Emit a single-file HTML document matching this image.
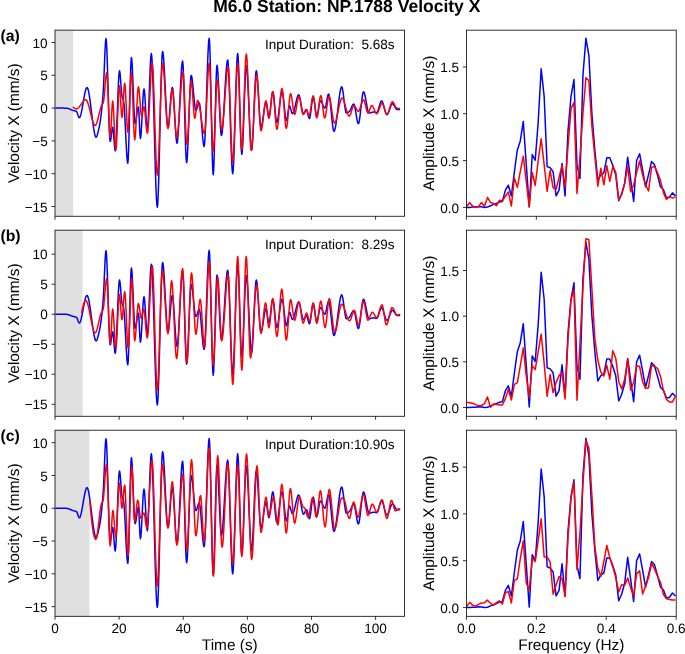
<!DOCTYPE html>
<html lang="en">
<head>
<meta charset="utf-8">
<title>M6.0 Station: NP.1788 Velocity X</title>
<style>
html,body{margin:0;padding:0;background:#ffffff;}
body{width:685px;height:654px;overflow:hidden;font-family:"Liberation Sans",sans-serif;}
svg{display:block;will-change:transform;}text{text-rendering:geometricPrecision;}
</style>
</head>
<body>
<svg width="685" height="654" viewBox="0 0 685 654">
<rect x="0" y="0" width="685" height="654" fill="#ffffff"/>
<defs>
<clipPath id="cl0"><rect x="55" y="30.15" width="349.6" height="186.1"/></clipPath>
<clipPath id="cr0"><rect x="466.4" y="30.15" width="209.8" height="186.1"/></clipPath>
<clipPath id="cl1"><rect x="55" y="230.17" width="349.6" height="186.1"/></clipPath>
<clipPath id="cr1"><rect x="466.4" y="230.17" width="209.8" height="186.1"/></clipPath>
<clipPath id="cl2"><rect x="55" y="430.2" width="349.6" height="186.1"/></clipPath>
<clipPath id="cr2"><rect x="466.4" y="430.2" width="209.8" height="186.1"/></clipPath>
</defs>
<text x="346.8" y="12.4" text-anchor="middle" font-family='"Liberation Sans", sans-serif' font-weight="700" font-size="17.5" fill="#000">M6.0 Station: NP.1788 Velocity X</text>
<rect x="55" y="30.15" width="18.2" height="186.1" fill="#e0e0e0"/>
<g clip-path="url(#cl0)" fill="none" stroke-width="1.5" stroke-linejoin="round" stroke-linecap="butt">
<path d="M55.4 108 L55.84 108 L56.28 108 L56.72 108 L57.16 108 L57.6 108.01 L58.04 108.01 L58.48 108.02 L58.92 108.02 L59.36 108.02 L59.8 108.03 L60.24 108.04 L60.68 108.04 L61.12 108.05 L61.56 108.06 L62 108.07 L62.44 108.08 L62.88 108.09 L63.32 108.1 L63.76 108.11 L64.2 108.13 L64.64 108.14 L65.08 108.15 L65.52 108.17 L65.96 108.18 L66.4 108.2 L66.83 108.23 L67.27 108.3 L67.7 108.39 L68.13 108.51 L68.57 108.65 L69 108.81 L69.43 108.98 L69.87 109.16 L70.3 109.35 L70.73 109.54 L71.17 109.73 L71.6 109.91 L72.03 110.09 L72.47 110.25 L72.9 110.4 L73.35 110.53 L73.8 110.64 L74.25 110.74 L74.7 110.84 L75.15 110.96 L75.6 111.1 L76.05 111.28 L76.5 111.5 L76.9 112.01 L77.3 112.96 L77.7 114.16 L78.1 115.42 L78.5 116.56 L78.9 117.38 L79.3 117.7 L79.73 117.43 L80.16 116.66 L80.58 115.46 L81.01 113.89 L81.44 112 L81.87 109.87 L82.29 107.55 L82.72 105.11 L83.15 102.6 L83.58 100.09 L84.01 97.65 L84.43 95.33 L84.86 93.2 L85.29 91.31 L85.72 89.74 L86.14 88.54 L86.57 87.77 L87 87.5 L87.43 87.83 L87.87 88.77 L88.3 90.25 L88.73 92.22 L89.17 94.61 L89.6 97.35 L90.03 100.39 L90.47 103.64 L90.9 107.06 L91.33 110.58 L91.77 114.12 L92.2 117.64 L92.63 121.06 L93.07 124.31 L93.5 127.35 L93.93 130.09 L94.37 132.48 L94.8 134.45 L95.23 135.93 L95.67 136.87 L96.1 137.2 L96.51 136.9 L96.93 136.09 L97.34 134.87 L97.76 133.34 L98.17 131.61 L98.59 129.8 L99 128 L99.4 126.16 L99.8 124.04 L100.2 121.63 L100.6 118.95 L101 116 L101.44 112.3 L101.88 108.01 L102.32 103.17 L102.76 97.82 L103.2 92 L103.6 85.01 L104 75.81 L104.4 65.6 L104.8 55.58 L105.2 46.95 L105.6 40.89 L106 38.6 L106.42 41.48 L106.84 49.3 L107.26 60.83 L107.68 74.82 L108.1 90.05 L108.52 105.28 L108.94 119.27 L109.36 130.8 L109.78 138.62 L110.2 141.5 L110.62 140.44 L111.03 137.79 L111.45 134.35 L111.87 130.91 L112.28 128.26 L112.7 127.2 L113.12 128.95 L113.53 133.32 L113.95 139 L114.37 144.68 L114.78 149.05 L115.2 150.8 L115.63 148.56 L116.06 142.48 L116.49 133.52 L116.92 122.64 L117.35 110.8 L117.78 98.96 L118.21 88.08 L118.64 79.12 L119.07 73.04 L119.5 70.8 L119.92 72.4 L120.33 76.48 L120.75 81.96 L121.17 87.77 L121.58 92.8 L122 96 L122.4 97.46 L122.8 98.48 L123.2 99.51 L123.6 101 L124.02 104.34 L124.44 110 L124.86 117.34 L125.28 125.74 L125.7 134.57 L126.12 143.2 L126.54 151.01 L126.96 157.36 L127.38 161.64 L127.8 163.2 L128.2 159.58 L128.6 149.87 L129 135.82 L129.4 119.16 L129.8 101.64 L130.2 84.98 L130.6 70.93 L131 61.22 L131.4 57.6 L131.81 59.86 L132.22 65.92 L132.63 74.69 L133.04 85.08 L133.46 96.02 L133.87 106.41 L134.28 115.18 L134.69 121.24 L135.1 123.5 L135.51 122.79 L135.93 120.92 L136.34 118.28 L136.75 115.25 L137.16 112.22 L137.57 109.58 L137.99 107.71 L138.4 107 L138.8 110.29 L139.2 118.12 L139.6 127.48 L140 135.31 L140.4 138.6 L140.85 136.46 L141.3 130.83 L141.75 122.87 L142.2 113.75 L142.65 104.63 L143.1 96.67 L143.55 91.04 L144 88.9 L144.41 90.69 L144.82 95.4 L145.24 102.06 L145.65 109.7 L146.06 117.34 L146.48 124 L146.89 128.71 L147.3 130.5 L147.74 127.86 L148.19 120.8 L148.63 110.56 L149.08 98.43 L149.52 85.67 L149.97 73.54 L150.41 63.3 L150.86 56.24 L151.3 53.6 L151.73 55.84 L152.16 62.11 L152.59 71.74 L153.01 84.05 L153.44 98.38 L153.87 114.05 L154.3 130.4 L154.73 146.75 L155.16 162.42 L155.59 176.75 L156.01 189.06 L156.44 198.69 L156.87 204.96 L157.3 207.2 L157.74 204.14 L158.18 195.67 L158.62 182.87 L159.07 166.83 L159.51 148.63 L159.95 129.35 L160.39 110.07 L160.83 91.87 L161.28 75.83 L161.72 63.03 L162.16 54.56 L162.6 51.5 L163.02 52.78 L163.43 56.34 L163.85 61.77 L164.26 68.66 L164.68 76.58 L165.09 85.12 L165.51 93.88 L165.92 102.42 L166.34 110.34 L166.75 117.23 L167.17 122.66 L167.58 126.22 L168 127.5 L168.43 126.38 L168.86 123.34 L169.29 118.86 L169.72 113.42 L170.15 107.5 L170.58 101.58 L171.01 96.14 L171.44 91.66 L171.87 88.62 L172.3 87.5 L172.73 88.8 L173.15 92.35 L173.58 97.67 L174.01 104.24 L174.44 111.56 L174.86 119.14 L175.29 126.46 L175.72 133.03 L176.15 138.35 L176.57 141.9 L177 143.2 L177.43 141.82 L177.86 137.96 L178.29 132.09 L178.72 124.64 L179.15 116.07 L179.58 106.83 L180.02 97.37 L180.45 88.13 L180.88 79.56 L181.31 72.11 L181.74 66.24 L182.17 62.38 L182.6 61 L183.04 64.48 L183.49 73.82 L183.93 87.34 L184.38 103.37 L184.82 120.23 L185.27 136.26 L185.71 149.78 L186.16 159.12 L186.6 162.6 L187.02 160.57 L187.44 155 L187.85 146.68 L188.27 136.39 L188.69 124.93 L189.11 113.07 L189.53 101.61 L189.95 91.32 L190.36 83 L190.78 77.43 L191.2 75.4 L191.63 76.22 L192.05 78.46 L192.48 81.81 L192.91 85.95 L193.34 90.56 L193.76 95.34 L194.19 99.95 L194.62 104.09 L195.05 107.44 L195.47 109.68 L195.9 110.5 L196.31 110.17 L196.72 109.3 L197.14 108.06 L197.55 106.65 L197.96 105.24 L198.38 104 L198.79 103.13 L199.2 102.8 L199.65 103.82 L200.09 106.61 L200.54 110.78 L200.98 115.93 L201.43 121.68 L201.87 127.62 L202.32 133.37 L202.76 138.52 L203.21 142.69 L203.65 145.48 L204.1 146.5 L204.53 144.37 L204.95 138.49 L205.38 129.59 L205.8 118.45 L206.22 105.8 L206.65 92.4 L207.07 79 L207.5 66.35 L207.92 55.21 L208.35 46.31 L208.77 40.43 L209.2 38.3 L209.64 42.98 L210.09 55.51 L210.53 73.66 L210.98 95.18 L211.42 117.82 L211.87 139.34 L212.31 157.49 L212.76 170.02 L213.2 174.7 L213.62 170.95 L214.04 160.89 L214.47 146.34 L214.89 129.08 L215.31 110.92 L215.73 93.66 L216.16 79.11 L216.58 69.05 L217 65.3 L217.44 67.27 L217.88 72.6 L218.32 80.46 L218.76 90.01 L219.2 100.4 L219.64 110.79 L220.08 120.34 L220.52 128.2 L220.96 133.53 L221.4 135.5 L221.85 134.4 L222.3 131.32 L222.75 126.59 L223.2 120.53 L223.65 113.49 L224.1 105.78 L224.55 97.75 L225 89.72 L225.45 82.01 L225.9 74.97 L226.35 68.91 L226.8 64.18 L227.25 61.1 L227.7 60 L228.12 62.24 L228.53 68.42 L228.95 77.77 L229.37 89.48 L229.78 102.77 L230.2 116.85 L230.62 130.93 L231.03 144.22 L231.45 155.93 L231.87 165.28 L232.28 171.46 L232.7 173.7 L233.12 171.34 L233.53 164.8 L233.95 154.93 L234.37 142.56 L234.78 128.52 L235.2 113.65 L235.62 98.78 L236.03 84.74 L236.45 72.37 L236.87 62.5 L237.28 55.96 L237.7 53.6 L238.11 56.42 L238.52 64.07 L238.93 75.35 L239.34 89.05 L239.75 103.95 L240.16 118.85 L240.57 132.55 L240.98 143.83 L241.39 151.48 L241.8 154.3 L242.25 151.82 L242.7 145.1 L243.15 135.18 L243.6 123.15 L244.05 110.05 L244.5 96.95 L244.95 84.92 L245.4 75 L245.85 68.28 L246.3 65.8 L246.74 67.46 L247.18 72.06 L247.62 79 L248.07 87.71 L248.51 97.59 L248.95 108.05 L249.39 118.51 L249.83 128.39 L250.28 137.1 L250.72 144.04 L251.16 148.64 L251.6 150.3 L252.03 148.45 L252.45 143.37 L252.88 135.79 L253.31 126.41 L253.74 115.96 L254.16 105.14 L254.59 94.69 L255.02 85.31 L255.45 77.73 L255.87 72.65 L256.3 70.8 L256.73 72.12 L257.15 75.74 L257.58 81.15 L258.01 87.84 L258.44 95.29 L258.86 103.01 L259.29 110.46 L259.72 117.15 L260.15 122.56 L260.57 126.18 L261 127.5 L261.42 127 L261.83 125.61 L262.25 123.52 L262.67 120.89 L263.08 117.91 L263.5 114.75 L263.92 111.59 L264.33 108.61 L264.75 105.98 L265.17 103.89 L265.58 102.5 L266 102 L266.41 102.86 L266.83 105.09 L267.24 108.14 L267.66 111.46 L268.07 114.51 L268.49 116.74 L268.9 117.6 L269.33 116.71 L269.77 114.33 L270.2 110.89 L270.63 106.8 L271.07 102.5 L271.5 98.41 L271.93 94.97 L272.37 92.59 L272.8 91.7 L273.24 92.75 L273.69 95.57 L274.13 99.66 L274.58 104.5 L275.02 109.6 L275.47 114.44 L275.91 118.53 L276.36 121.35 L276.8 122.4 L277.23 121.8 L277.67 120.13 L278.1 117.62 L278.53 114.47 L278.97 110.89 L279.4 107.1 L279.83 103.31 L280.27 99.73 L280.7 96.58 L281.13 94.07 L281.57 92.4 L282 91.8 L282.45 92.61 L282.9 94.81 L283.35 98.04 L283.8 101.97 L284.25 106.25 L284.7 110.53 L285.15 114.46 L285.6 117.69 L286.05 119.89 L286.5 120.7 L286.91 119.87 L287.33 117.75 L287.74 114.84 L288.16 111.66 L288.57 108.75 L288.99 106.63 L289.4 105.8 L289.84 106.24 L290.29 107.37 L290.73 108.91 L291.17 110.59 L291.61 112.13 L292.06 113.26 L292.5 113.7 L292.94 113.42 L293.39 112.65 L293.83 111.47 L294.27 109.95 L294.71 108.19 L295.16 106.26 L295.6 104.25 L296.04 102.24 L296.49 100.31 L296.93 98.55 L297.37 97.03 L297.81 95.85 L298.26 95.08 L298.7 94.8 L299.14 95.25 L299.57 96.47 L300.01 98.31 L300.45 100.57 L300.88 103.09 L301.32 105.71 L301.75 108.23 L302.19 110.49 L302.63 112.33 L303.06 113.55 L303.5 114 L303.93 113.76 L304.36 113.13 L304.79 112.27 L305.21 111.33 L305.64 110.47 L306.07 109.84 L306.5 109.6 L306.91 110.09 L307.33 111.36 L307.74 113.1 L308.16 115 L308.57 116.74 L308.99 118.01 L309.4 118.5 L309.82 117.76 L310.24 115.79 L310.67 112.93 L311.09 109.53 L311.51 105.97 L311.93 102.57 L312.36 99.71 L312.78 97.74 L313.2 97 L313.6 97.65 L314 99.4 L314.4 101.93 L314.8 104.92 L315.2 108.08 L315.6 111.07 L316 113.6 L316.4 115.35 L316.8 116 L317.25 115.35 L317.7 113.63 L318.15 111.19 L318.6 108.4 L319.05 105.61 L319.5 103.17 L319.95 101.45 L320.4 100.8 L320.85 101 L321.3 101.55 L321.75 102.36 L322.2 103.33 L322.65 104.4 L323.1 105.47 L323.55 106.44 L324 107.25 L324.45 107.8 L324.9 108 L325.31 107.52 L325.72 106.25 L326.13 104.4 L326.54 102.2 L326.96 99.9 L327.37 97.7 L327.78 95.85 L328.19 94.58 L328.6 94.1 L329.05 94.83 L329.5 96.86 L329.95 99.91 L330.4 103.74 L330.85 108.09 L331.3 112.7 L331.75 117.31 L332.2 121.66 L332.65 125.49 L333.1 128.54 L333.55 130.57 L334 131.3 L334.43 130.9 L334.86 129.78 L335.28 128.01 L335.71 125.7 L336.14 122.93 L336.57 119.79 L336.99 116.38 L337.42 112.78 L337.85 109.1 L338.28 105.42 L338.71 101.82 L339.13 98.41 L339.56 95.27 L339.99 92.5 L340.42 90.19 L340.84 88.42 L341.27 87.3 L341.7 86.9 L342.13 87.51 L342.55 89.18 L342.98 91.68 L343.41 94.77 L343.84 98.22 L344.26 101.78 L344.69 105.23 L345.12 108.32 L345.55 110.82 L345.97 112.49 L346.4 113.1 L346.81 113.05 L347.23 112.9 L347.64 112.69 L348.06 112.41 L348.47 112.09 L348.89 111.75 L349.3 111.4 L349.74 110.9 L350.18 110.17 L350.62 109.28 L351.06 108.3 L351.5 107.29 L351.94 106.32 L352.38 105.44 L352.82 104.74 L353.26 104.27 L353.7 104.1 L354.13 104.56 L354.55 105.81 L354.98 107.68 L355.41 109.99 L355.84 112.57 L356.26 115.23 L356.69 117.81 L357.12 120.12 L357.55 121.99 L357.97 123.24 L358.4 123.7 L358.82 123.07 L359.25 121.34 L359.67 118.72 L360.1 115.43 L360.52 111.7 L360.95 107.75 L361.38 103.8 L361.8 100.07 L362.23 96.78 L362.65 94.16 L363.07 92.43 L363.5 91.8 L363.93 92.16 L364.36 93.16 L364.79 94.68 L365.22 96.61 L365.65 98.83 L366.08 101.22 L366.52 103.68 L366.95 106.07 L367.38 108.29 L367.81 110.22 L368.24 111.74 L368.67 112.74 L369.1 113.1 L369.53 113.07 L369.95 113 L370.38 112.9 L370.81 112.77 L371.24 112.62 L371.66 112.48 L372.09 112.33 L372.52 112.2 L372.95 112.1 L373.37 112.03 L373.8 112 L374.21 112.03 L374.63 112.12 L375.04 112.24 L375.46 112.36 L375.87 112.48 L376.29 112.57 L376.7 112.6 L377.15 112.33 L377.59 111.58 L378.04 110.46 L378.48 109.08 L378.93 107.55 L379.37 105.95 L379.82 104.42 L380.26 103.04 L380.71 101.92 L381.15 101.17 L381.6 100.9 L382.04 101.17 L382.48 101.92 L382.93 103.06 L383.37 104.48 L383.81 106.09 L384.25 107.8 L384.69 109.51 L385.13 111.12 L385.57 112.54 L386.02 113.68 L386.46 114.43 L386.9 114.7 L387.33 114.52 L387.76 114.01 L388.19 113.23 L388.62 112.24 L389.05 111.1 L389.48 109.88 L389.92 108.62 L390.35 107.4 L390.78 106.26 L391.21 105.27 L391.64 104.49 L392.07 103.98 L392.5 103.8 L392.93 103.94 L393.35 104.31 L393.78 104.86 L394.21 105.54 L394.64 106.31 L395.06 107.09 L395.49 107.86 L395.92 108.54 L396.35 109.09 L396.77 109.46 L397.2 109.6 L397.61 109.6 L398.03 109.59 L398.44 109.58 L398.86 109.54 L399.27 109.49 L399.69 109.41 L400.1 109.3" stroke="#0000ff"/>
<path d="M72.9 106.8 L73.35 107.24 L73.8 107.65 L74.25 108 L74.7 108.31 L75.15 108.56 L75.6 108.74 L76.05 108.86 L76.5 108.9 L76.94 108.84 L77.39 108.67 L77.83 108.39 L78.27 108.03 L78.71 107.58 L79.16 107.08 L79.6 106.51 L80.04 105.91 L80.49 105.28 L80.93 104.63 L81.37 103.97 L81.81 103.32 L82.26 102.69 L82.7 102.09 L83.14 101.52 L83.59 101.02 L84.03 100.57 L84.47 100.21 L84.91 99.93 L85.36 99.76 L85.8 99.7 L86.24 99.87 L86.69 100.36 L87.13 101.13 L87.57 102.15 L88.01 103.39 L88.46 104.81 L88.9 106.39 L89.34 108.08 L89.79 109.85 L90.23 111.68 L90.67 113.52 L91.11 115.35 L91.56 117.12 L92 118.81 L92.44 120.39 L92.89 121.81 L93.33 123.05 L93.77 124.07 L94.21 124.84 L94.66 125.33 L95.1 125.5 L95.55 125.29 L95.99 124.69 L96.44 123.75 L96.89 122.53 L97.33 121.08 L97.78 119.44 L98.23 117.68 L98.67 115.83 L99.12 113.96 L99.57 112.11 L100.01 110.33 L100.46 108.68 L100.91 107.21 L101.35 105.96 L101.8 105 L102.15 104.48 L102.5 104.07 L102.85 103.63 L103.2 103 L103.65 100.93 L104.1 97.13 L104.55 92.21 L105 86.8 L105.45 81.52 L105.9 76.98 L106.35 73.8 L106.8 72.6 L107.22 75.39 L107.65 82.74 L108.08 93.13 L108.5 105.05 L108.92 116.97 L109.35 127.36 L109.78 134.71 L110.2 137.5 L110.62 134.8 L111.03 128.06 L111.45 119.3 L111.87 110.54 L112.28 103.8 L112.7 101.1 L113.14 103.81 L113.59 110.81 L114.03 120.39 L114.47 130.81 L114.91 140.39 L115.36 147.39 L115.8 150.1 L116.2 147.89 L116.6 141.99 L117 133.43 L117.4 123.29 L117.8 112.61 L118.2 102.47 L118.6 93.91 L119 88.01 L119.4 85.8 L119.83 88.13 L120.27 93.97 L120.7 101.55 L121.13 109.13 L121.57 114.97 L122 117.3 L122.39 115.41 L122.77 110.54 L123.16 103.88 L123.54 96.62 L123.93 89.96 L124.31 85.09 L124.7 83.2 L125.14 85.91 L125.59 92.91 L126.03 102.49 L126.47 112.91 L126.91 122.49 L127.36 129.49 L127.8 132.2 L128.2 130.17 L128.6 124.72 L129 116.83 L129.4 107.47 L129.8 97.63 L130.2 88.27 L130.6 80.38 L131 74.93 L131.4 72.9 L131.81 75.77 L132.22 83.35 L132.64 94.07 L133.05 106.35 L133.46 118.63 L133.88 129.35 L134.29 136.93 L134.7 139.8 L135.11 137.98 L135.52 133.11 L135.93 126.06 L136.34 117.7 L136.76 108.9 L137.17 100.54 L137.58 93.49 L137.99 88.62 L138.4 86.8 L138.8 88.05 L139.2 91.36 L139.6 96.04 L140 101.4 L140.4 106.76 L140.8 111.44 L141.2 114.75 L141.6 116 L142 115.32 L142.4 113.61 L142.8 111.4 L143.2 109.19 L143.6 107.48 L144 106.8 L144.41 107.93 L144.82 110.92 L145.24 115.15 L145.65 120 L146.06 124.85 L146.48 129.08 L146.89 132.07 L147.3 133.2 L147.75 131.57 L148.19 127.1 L148.64 120.42 L149.08 112.16 L149.53 102.96 L149.97 93.44 L150.42 84.24 L150.86 75.98 L151.31 69.3 L151.75 64.83 L152.2 63.2 L152.62 65.4 L153.05 71.49 L153.47 80.68 L153.9 92.21 L154.32 105.29 L154.75 119.15 L155.18 133.01 L155.6 146.09 L156.03 157.62 L156.45 166.81 L156.88 172.9 L157.3 175.1 L157.74 172.91 L158.18 166.84 L158.62 157.68 L159.07 146.19 L159.51 133.16 L159.95 119.35 L160.39 105.54 L160.83 92.51 L161.28 81.02 L161.72 71.86 L162.16 65.79 L162.6 63.6 L163.02 64.69 L163.43 67.74 L163.85 72.39 L164.26 78.27 L164.68 85.05 L165.09 92.36 L165.51 99.84 L165.92 107.15 L166.34 113.93 L166.75 119.81 L167.17 124.46 L167.58 127.51 L168 128.6 L168.43 127.5 L168.86 124.52 L169.29 120.13 L169.72 114.8 L170.15 109 L170.58 103.2 L171.01 97.87 L171.44 93.48 L171.87 90.5 L172.3 89.4 L172.75 90.74 L173.2 94.37 L173.65 99.72 L174.1 106.23 L174.55 113.3 L175 120.37 L175.45 126.88 L175.9 132.23 L176.35 135.86 L176.8 137.2 L177.24 136.26 L177.69 133.62 L178.13 129.56 L178.57 124.37 L179.01 118.34 L179.46 111.73 L179.9 104.85 L180.34 97.97 L180.79 91.36 L181.23 85.33 L181.67 80.14 L182.11 76.08 L182.56 73.44 L183 72.5 L183.43 74.96 L183.87 81.56 L184.3 91.11 L184.73 102.44 L185.17 114.36 L185.6 125.69 L186.03 135.24 L186.47 141.84 L186.9 144.3 L187.33 142.54 L187.76 137.77 L188.19 130.74 L188.62 122.19 L189.05 112.9 L189.48 103.61 L189.91 95.06 L190.34 88.03 L190.77 83.26 L191.2 81.5 L191.6 82.76 L192 86.14 L192.4 91.04 L192.8 96.85 L193.2 102.95 L193.6 108.76 L194 113.66 L194.4 117.04 L194.8 118.3 L195.2 117.31 L195.6 114.75 L196 111.25 L196.4 107.45 L196.8 103.95 L197.2 101.39 L197.6 100.4 L198.03 100.77 L198.46 101.83 L198.89 103.46 L199.32 105.59 L199.76 108.1 L200.19 110.9 L200.62 113.9 L201.05 117 L201.48 120.1 L201.91 123.1 L202.34 125.9 L202.78 128.41 L203.21 130.54 L203.64 132.17 L204.07 133.23 L204.5 133.6 L204.93 131.96 L205.35 127.46 L205.78 120.75 L206.21 112.44 L206.64 103.19 L207.06 93.61 L207.49 84.36 L207.92 76.05 L208.35 69.34 L208.77 64.84 L209.2 63.2 L209.64 66.2 L210.09 74.26 L210.53 85.91 L210.98 99.73 L211.42 114.27 L211.87 128.09 L212.31 139.74 L212.76 147.8 L213.2 150.8 L213.62 148.82 L214.04 143.45 L214.46 135.53 L214.88 125.91 L215.3 115.45 L215.72 104.99 L216.14 95.37 L216.56 87.45 L216.98 82.08 L217.4 80.1 L217.83 81.48 L218.26 85.22 L218.69 90.73 L219.12 97.42 L219.55 104.7 L219.98 111.98 L220.41 118.67 L220.84 124.18 L221.27 127.92 L221.7 129.3 L222.13 128.5 L222.55 126.27 L222.98 122.81 L223.41 118.35 L223.83 113.12 L224.26 107.34 L224.69 101.22 L225.11 94.98 L225.54 88.86 L225.97 83.08 L226.39 77.85 L226.82 73.39 L227.25 69.93 L227.67 67.7 L228.1 66.9 L228.52 69.12 L228.94 75.21 L229.35 84.3 L229.77 95.54 L230.19 108.07 L230.61 121.03 L231.03 133.56 L231.45 144.8 L231.86 153.89 L232.28 159.98 L232.7 162.2 L233.12 160.25 L233.53 154.87 L233.95 146.73 L234.37 136.53 L234.78 124.96 L235.2 112.7 L235.62 100.44 L236.03 88.87 L236.45 78.67 L236.87 70.53 L237.28 65.15 L237.7 63.2 L238.14 66.18 L238.59 74.15 L239.03 85.7 L239.48 99.4 L239.92 113.8 L240.37 127.5 L240.81 139.05 L241.26 147.02 L241.7 150 L242.12 147.76 L242.54 141.63 L242.95 132.47 L243.37 121.15 L243.79 108.53 L244.21 95.47 L244.63 82.85 L245.05 71.53 L245.46 62.37 L245.88 56.24 L246.3 54 L246.72 55.9 L247.13 61.14 L247.55 69.06 L247.97 78.99 L248.38 90.26 L248.8 102.2 L249.22 114.14 L249.63 125.41 L250.05 135.34 L250.47 143.26 L250.88 148.5 L251.3 150.4 L251.75 148.92 L252.2 144.81 L252.65 138.62 L253.1 130.85 L253.55 122.04 L254 112.7 L254.45 103.36 L254.9 94.55 L255.35 86.78 L255.8 80.59 L256.25 76.48 L256.7 75 L257.13 76.56 L257.56 80.8 L257.99 87.05 L258.42 94.64 L258.85 102.9 L259.28 111.16 L259.71 118.75 L260.14 125 L260.57 129.24 L261 130.8 L261.42 130.21 L261.83 128.58 L262.25 126.11 L262.67 123.02 L263.08 119.52 L263.5 115.8 L263.92 112.08 L264.33 108.58 L264.75 105.49 L265.17 103.02 L265.58 101.39 L266 100.8 L266.41 101.76 L266.83 104.25 L267.24 107.65 L267.66 111.35 L268.07 114.75 L268.49 117.24 L268.9 118.2 L269.33 117.29 L269.77 114.87 L270.2 111.36 L270.63 107.19 L271.07 102.81 L271.5 98.64 L271.93 95.13 L272.37 92.71 L272.8 91.8 L273.21 92.85 L273.62 95.7 L274.03 99.9 L274.44 105 L274.85 110.55 L275.26 116.1 L275.67 121.2 L276.08 125.4 L276.49 128.25 L276.9 129.3 L277.32 128.5 L277.75 126.27 L278.17 122.91 L278.6 118.7 L279.02 113.92 L279.45 108.85 L279.88 103.78 L280.3 99 L280.73 94.79 L281.15 91.43 L281.57 89.2 L282 88.4 L282.43 89.52 L282.86 92.55 L283.29 97.02 L283.72 102.44 L284.15 108.35 L284.58 114.26 L285.01 119.68 L285.44 124.15 L285.87 127.18 L286.3 128.3 L286.73 127.33 L287.16 124.69 L287.59 120.8 L288.02 116.09 L288.45 110.95 L288.88 105.81 L289.31 101.1 L289.74 97.21 L290.17 94.57 L290.6 93.6 L291.04 94.31 L291.49 96.22 L291.93 98.99 L292.38 102.27 L292.82 105.73 L293.27 109.01 L293.71 111.78 L294.16 113.69 L294.6 114.4 L295.03 113.9 L295.46 112.54 L295.89 110.53 L296.32 108.1 L296.75 105.45 L297.18 102.8 L297.61 100.37 L298.04 98.36 L298.47 97 L298.9 96.5 L299.33 97 L299.76 98.36 L300.19 100.37 L300.62 102.8 L301.05 105.45 L301.48 108.1 L301.91 110.53 L302.34 112.54 L302.77 113.9 L303.2 114.4 L303.61 114.14 L304.03 113.47 L304.44 112.55 L304.86 111.55 L305.27 110.63 L305.69 109.96 L306.1 109.7 L306.51 110.04 L306.93 110.91 L307.34 112.1 L307.76 113.4 L308.17 114.59 L308.59 115.46 L309 115.8 L309.42 115.24 L309.84 113.72 L310.26 111.48 L310.68 108.76 L311.1 105.8 L311.52 102.84 L311.94 100.12 L312.36 97.88 L312.78 96.36 L313.2 95.8 L313.6 96.56 L314 98.6 L314.4 101.56 L314.8 105.06 L315.2 108.74 L315.6 112.24 L316 115.2 L316.4 117.24 L316.8 118 L317.24 117.23 L317.69 115.16 L318.13 112.17 L318.58 108.62 L319.02 104.88 L319.47 101.33 L319.91 98.34 L320.36 96.27 L320.8 95.5 L321.23 96.27 L321.67 98.34 L322.1 101.33 L322.53 104.88 L322.97 108.62 L323.4 112.17 L323.83 115.16 L324.27 117.23 L324.7 118 L325.13 117.4 L325.56 115.76 L325.99 113.36 L326.42 110.43 L326.85 107.25 L327.28 104.07 L327.71 101.14 L328.14 98.74 L328.57 97.1 L329 96.5 L329.42 96.95 L329.85 98.19 L330.27 100.08 L330.69 102.48 L331.12 105.24 L331.54 108.22 L331.96 111.28 L332.38 114.26 L332.81 117.02 L333.23 119.42 L333.65 121.31 L334.08 122.55 L334.5 123 L334.94 122.75 L335.38 122.04 L335.82 120.94 L336.26 119.5 L336.71 117.78 L337.15 115.86 L337.59 113.77 L338.03 111.6 L338.47 109.4 L338.91 107.23 L339.35 105.14 L339.79 103.22 L340.24 101.5 L340.68 100.06 L341.12 98.96 L341.56 98.25 L342 98 L342.43 98.18 L342.86 98.69 L343.29 99.49 L343.72 100.53 L344.15 101.78 L344.58 103.17 L345.01 104.68 L345.44 106.25 L345.86 107.85 L346.29 109.42 L346.72 110.93 L347.15 112.32 L347.58 113.57 L348.01 114.61 L348.44 115.41 L348.87 115.92 L349.3 116.1 L349.72 115.85 L350.14 115.18 L350.55 114.16 L350.97 112.91 L351.39 111.52 L351.81 110.08 L352.23 108.69 L352.65 107.44 L353.06 106.42 L353.48 105.75 L353.9 105.5 L354.35 105.67 L354.8 106.11 L355.25 106.77 L355.7 107.58 L356.15 108.45 L356.6 109.32 L357.05 110.13 L357.5 110.79 L357.95 111.23 L358.4 111.4 L358.82 111.17 L359.25 110.53 L359.67 109.57 L360.1 108.37 L360.52 107 L360.95 105.55 L361.38 104.1 L361.8 102.73 L362.23 101.53 L362.65 100.57 L363.07 99.93 L363.5 99.7 L363.95 100.08 L364.4 101.09 L364.85 102.59 L365.3 104.42 L365.75 106.4 L366.2 108.38 L366.65 110.21 L367.1 111.71 L367.55 112.72 L368 113.1 L368.42 112.84 L368.84 112.14 L369.27 111.13 L369.69 109.93 L370.11 108.67 L370.53 107.47 L370.96 106.46 L371.38 105.76 L371.8 105.5 L372.25 105.69 L372.69 106.21 L373.14 107 L373.58 107.96 L374.03 109.04 L374.47 110.16 L374.92 111.24 L375.36 112.2 L375.81 112.99 L376.25 113.51 L376.7 113.7 L377.14 113.49 L377.58 112.92 L378.02 112.06 L378.47 110.98 L378.91 109.75 L379.35 108.45 L379.79 107.15 L380.23 105.92 L380.68 104.84 L381.12 103.98 L381.56 103.41 L382 103.2 L382.45 103.46 L382.89 104.17 L383.34 105.23 L383.78 106.54 L384.23 108 L384.67 109.5 L385.12 110.96 L385.56 112.27 L386.01 113.33 L386.45 114.04 L386.9 114.3 L387.33 114.09 L387.76 113.5 L388.19 112.61 L388.62 111.48 L389.05 110.18 L389.48 108.77 L389.92 107.33 L390.35 105.92 L390.78 104.62 L391.21 103.49 L391.64 102.6 L392.07 102.01 L392.5 101.8 L392.91 101.96 L393.32 102.39 L393.73 103.04 L394.14 103.83 L394.55 104.7 L394.96 105.58 L395.37 106.4 L395.78 107.11 L396.19 107.63 L396.6 107.9 L397.04 108.03 L397.48 108.14 L397.91 108.24 L398.35 108.33 L398.79 108.4 L399.23 108.46 L399.66 108.49 L400.1 108.5" stroke="#ff0000"/>
</g>
<rect x="55" y="30.15" width="349.6" height="186.1" fill="none" stroke="#000000" stroke-width="0.8"/>
<line x1="51.5" y1="42.5" x2="55" y2="42.5" stroke="#000000" stroke-width="0.8"/>
<text x="47.7" y="47.6" text-anchor="end" font-family='"Liberation Sans", sans-serif' font-size="13.6" fill="#000">10</text>
<line x1="51.5" y1="75.3" x2="55" y2="75.3" stroke="#000000" stroke-width="0.8"/>
<text x="47.7" y="80.4" text-anchor="end" font-family='"Liberation Sans", sans-serif' font-size="13.6" fill="#000">5</text>
<line x1="51.5" y1="108.1" x2="55" y2="108.1" stroke="#000000" stroke-width="0.8"/>
<text x="47.7" y="113.2" text-anchor="end" font-family='"Liberation Sans", sans-serif' font-size="13.6" fill="#000">0</text>
<line x1="51.5" y1="140.9" x2="55" y2="140.9" stroke="#000000" stroke-width="0.8"/>
<text x="47.7" y="146" text-anchor="end" font-family='"Liberation Sans", sans-serif' font-size="13.6" fill="#000">−5</text>
<line x1="51.5" y1="173.7" x2="55" y2="173.7" stroke="#000000" stroke-width="0.8"/>
<text x="47.7" y="178.8" text-anchor="end" font-family='"Liberation Sans", sans-serif' font-size="13.6" fill="#000">−10</text>
<line x1="51.5" y1="206.5" x2="55" y2="206.5" stroke="#000000" stroke-width="0.8"/>
<text x="47.7" y="211.6" text-anchor="end" font-family='"Liberation Sans", sans-serif' font-size="13.6" fill="#000">−15</text>
<line x1="55" y1="216.25" x2="55" y2="219.75" stroke="#000000" stroke-width="0.8"/>
<line x1="119.12" y1="216.25" x2="119.12" y2="219.75" stroke="#000000" stroke-width="0.8"/>
<line x1="183.24" y1="216.25" x2="183.24" y2="219.75" stroke="#000000" stroke-width="0.8"/>
<line x1="247.36" y1="216.25" x2="247.36" y2="219.75" stroke="#000000" stroke-width="0.8"/>
<line x1="311.48" y1="216.25" x2="311.48" y2="219.75" stroke="#000000" stroke-width="0.8"/>
<line x1="375.6" y1="216.25" x2="375.6" y2="219.75" stroke="#000000" stroke-width="0.8"/>
<text transform="translate(19 123.2) rotate(-90)" text-anchor="middle" font-family='"Liberation Sans", sans-serif' font-size="15.4" fill="#000">Velocity X (mm/s)</text>
<text x="0.4" y="41.1" font-family='"Liberation Sans", sans-serif' font-weight="700" font-size="15.8" fill="#000">(a)</text>
<text x="394.6" y="49" text-anchor="end" xml:space="preserve" font-family='"Liberation Sans", sans-serif' font-size="13.55" fill="#000">Input Duration:  5.68s</text>
<g clip-path="url(#cr0)" fill="none" stroke-width="1.5" stroke-linejoin="round" stroke-linecap="butt">
<path d="M466.6 207.4 L469.58 207.4 L472.57 207.12 L475.55 207.12 L478.53 206.65 L481.52 206.84 L484.5 207.4 L487.48 207.12 L490.46 205.71 L493.45 204.59 L496.43 203.37 L499.41 201.97 L502.4 201.41 L505.38 190.17 L508.36 185.21 L511.35 195.98 L514.33 172.38 L517.31 150.19 L520.29 140.92 L523.28 121.45 L526.26 164.33 L529.24 206.93 L532.23 154.5 L535.21 160.3 L538.19 122.2 L541.18 68.83 L544.16 96.45 L547.14 166.58 L550.12 167.79 L553.11 171.82 L556.09 195.79 L559.07 190.17 L562.06 163.58 L565.04 195.88 L568.02 130.62 L571 96.45 L573.99 79.6 L576.97 165.08 L579.95 178.37 L582.94 75.38 L585.92 38.21 L588.9 55.72 L591.89 113.77 L594.87 150.47 L597.85 180.25 L600.84 174.82 L603.82 172.85 L606.8 157.78 L609.78 157.78 L612.77 165.27 L615.75 174.91 L618.73 200.66 L621.72 193.82 L624.7 182.87 L627.68 157.21 L630.66 179.31 L633.65 201.41 L636.63 160.49 L639.61 153.75 L642.6 169.95 L645.58 186.8 L648.56 174.63 L651.55 161.43 L654.53 164.7 L657.51 175.28 L660.5 186.8 L663.48 189.8 L666.46 197.76 L669.44 197.19 L672.43 192.89 L675.41 195.88" stroke="#0000ff"/>
<path d="M466.6 206.65 L469.58 202.72 L472.57 206 L475.55 207.4 L478.53 206.65 L481.52 202.44 L484.5 206.28 L487.48 197.38 L490.46 202.44 L493.45 203.37 L496.43 205.71 L499.41 200.28 L502.4 200.94 L505.38 196.26 L508.36 192.04 L511.35 206 L514.33 178.09 L517.31 187.36 L520.29 171.63 L523.28 156.18 L526.26 181.65 L529.24 206.65 L532.23 172.38 L535.21 185.49 L538.19 160.59 L541.18 138.77 L544.16 164.33 L547.14 191.3 L550.12 170.51 L553.11 187.74 L556.09 189.24 L559.07 177.44 L562.06 165.55 L565.04 186.99 L568.02 146.54 L571 108.62 L573.99 102.63 L576.97 193.45 L579.95 156.84 L582.94 113.77 L585.92 77.72 L588.9 80.81 L591.89 126.22 L594.87 157.03 L597.85 186.15 L600.84 168.36 L603.82 184.84 L606.8 165.64 L609.78 181.28 L612.77 166.58 L615.75 172.2 L618.73 199.72 L621.72 194.29 L624.7 183.52 L627.68 166.2 L630.66 191.67 L633.65 184.93 L636.63 172.66 L639.61 161.05 L642.6 175.1 L645.58 184.93 L648.56 191.01 L651.55 167.14 L654.53 166.58 L657.51 172.66 L660.5 180.62 L663.48 192.89 L666.46 199.35 L669.44 196.54 L672.43 198.13 L675.41 196.91" stroke="#ff0000"/>
</g>
<rect x="466.4" y="30.15" width="209.8" height="186.1" fill="none" stroke="#000000" stroke-width="0.8"/>
<line x1="462.9" y1="207.4" x2="466.4" y2="207.4" stroke="#000000" stroke-width="0.8"/>
<text x="459.1" y="212.5" text-anchor="end" font-family='"Liberation Sans", sans-serif' font-size="13.6" fill="#000">0.0</text>
<line x1="462.9" y1="160.59" x2="466.4" y2="160.59" stroke="#000000" stroke-width="0.8"/>
<text x="459.1" y="165.69" text-anchor="end" font-family='"Liberation Sans", sans-serif' font-size="13.6" fill="#000">0.5</text>
<line x1="462.9" y1="113.77" x2="466.4" y2="113.77" stroke="#000000" stroke-width="0.8"/>
<text x="459.1" y="118.87" text-anchor="end" font-family='"Liberation Sans", sans-serif' font-size="13.6" fill="#000">1.0</text>
<line x1="462.9" y1="66.96" x2="466.4" y2="66.96" stroke="#000000" stroke-width="0.8"/>
<text x="459.1" y="72.06" text-anchor="end" font-family='"Liberation Sans", sans-serif' font-size="13.6" fill="#000">1.5</text>
<line x1="466.4" y1="216.25" x2="466.4" y2="219.75" stroke="#000000" stroke-width="0.8"/>
<line x1="536.33" y1="216.25" x2="536.33" y2="219.75" stroke="#000000" stroke-width="0.8"/>
<line x1="606.27" y1="216.25" x2="606.27" y2="219.75" stroke="#000000" stroke-width="0.8"/>
<line x1="676.2" y1="216.25" x2="676.2" y2="219.75" stroke="#000000" stroke-width="0.8"/>
<text transform="translate(433.6 123.2) rotate(-90)" text-anchor="middle" font-family='"Liberation Sans", sans-serif' font-size="15.4" fill="#000">Amplitude X (mm/s)</text>
<rect x="55" y="230.17" width="27.5" height="186.1" fill="#e0e0e0"/>
<g clip-path="url(#cl1)" fill="none" stroke-width="1.5" stroke-linejoin="round" stroke-linecap="butt">
<path d="M55.4 314.15 L55.84 314.15 L56.28 314.15 L56.72 314.15 L57.16 314.15 L57.6 314.16 L58.04 314.16 L58.48 314.16 L58.92 314.17 L59.36 314.17 L59.8 314.18 L60.24 314.18 L60.68 314.19 L61.12 314.2 L61.56 314.2 L62 314.21 L62.44 314.22 L62.88 314.23 L63.32 314.24 L63.76 314.25 L64.2 314.26 L64.64 314.28 L65.08 314.29 L65.52 314.3 L65.96 314.32 L66.4 314.33 L66.83 314.36 L67.27 314.42 L67.7 314.51 L68.13 314.62 L68.57 314.75 L69 314.89 L69.43 315.05 L69.87 315.21 L70.3 315.38 L70.73 315.56 L71.17 315.73 L71.6 315.9 L72.03 316.06 L72.47 316.21 L72.9 316.35 L73.35 316.46 L73.8 316.56 L74.25 316.66 L74.7 316.75 L75.15 316.86 L75.6 316.99 L76.05 317.15 L76.5 317.35 L76.9 317.82 L77.3 318.68 L77.7 319.78 L78.1 320.94 L78.5 321.98 L78.9 322.74 L79.3 323.03 L79.73 322.78 L80.16 322.08 L80.58 320.98 L81.01 319.54 L81.44 317.81 L81.87 315.86 L82.29 313.74 L82.72 311.5 L83.15 309.21 L83.58 306.91 L84.01 304.68 L84.43 302.55 L84.86 300.6 L85.29 298.87 L85.72 297.43 L86.14 296.33 L86.57 295.63 L87 295.39 L87.43 295.69 L87.87 296.55 L88.3 297.91 L88.73 299.71 L89.17 301.89 L89.6 304.4 L90.03 307.18 L90.47 310.16 L90.9 313.29 L91.33 316.51 L91.77 319.75 L92.2 322.97 L92.63 326.1 L93.07 329.08 L93.5 331.86 L93.93 334.37 L94.37 336.55 L94.8 338.35 L95.23 339.71 L95.67 340.57 L96.1 340.87 L96.51 340.6 L96.93 339.86 L97.34 338.74 L97.76 337.34 L98.17 335.76 L98.59 334.1 L99 332.45 L99.4 330.77 L99.8 328.83 L100.2 326.62 L100.6 324.17 L101 321.47 L101.44 318.08 L101.88 314.16 L102.32 309.73 L102.76 304.83 L103.2 299.5 L103.6 293.1 L104 284.69 L104.4 275.34 L104.8 266.17 L105.2 258.27 L105.6 252.72 L106 250.63 L106.42 253.27 L106.84 260.43 L107.26 270.97 L107.68 283.78 L108.1 297.72 L108.52 311.66 L108.94 324.47 L109.36 335.01 L109.78 342.17 L110.2 344.81 L110.62 343.84 L111.03 341.42 L111.45 338.27 L111.87 335.11 L112.28 332.69 L112.7 331.72 L113.12 333.32 L113.53 337.32 L113.95 342.52 L114.37 347.72 L114.78 351.72 L115.2 353.32 L115.63 351.27 L116.06 345.71 L116.49 337.51 L116.92 327.55 L117.35 316.71 L117.78 305.87 L118.21 295.92 L118.64 287.72 L119.07 282.15 L119.5 280.1 L119.92 281.57 L120.33 285.3 L120.75 290.32 L121.17 295.63 L121.58 300.24 L122 303.17 L122.4 304.5 L122.8 305.43 L123.2 306.37 L123.6 307.74 L124.02 310.8 L124.44 315.98 L124.86 322.7 L125.28 330.38 L125.7 338.47 L126.12 346.37 L126.54 353.51 L126.96 359.33 L127.38 363.24 L127.8 364.67 L128.2 361.36 L128.6 352.47 L129 339.61 L129.4 324.37 L129.8 308.32 L130.2 293.08 L130.6 280.22 L131 271.33 L131.4 268.02 L131.81 270.09 L132.22 275.63 L132.63 283.66 L133.04 293.17 L133.46 303.18 L133.87 312.7 L134.28 320.72 L134.69 326.27 L135.1 328.33 L135.51 327.69 L135.93 325.98 L136.34 323.56 L136.75 320.78 L137.16 318.01 L137.57 315.59 L137.99 313.88 L138.4 313.23 L138.8 316.24 L139.2 323.41 L139.6 331.97 L140 339.15 L140.4 342.15 L140.85 340.2 L141.3 335.05 L141.75 327.76 L142.2 319.41 L142.65 311.06 L143.1 303.77 L143.55 298.62 L144 296.67 L144.41 298.3 L144.82 302.62 L145.24 308.71 L145.65 315.7 L146.06 322.69 L146.48 328.79 L146.89 333.11 L147.3 334.74 L147.74 332.33 L148.19 325.86 L148.63 316.49 L149.08 305.39 L149.52 293.71 L149.97 282.61 L150.41 273.24 L150.86 266.77 L151.3 264.36 L151.73 266.41 L152.16 272.15 L152.59 280.96 L153.01 292.23 L153.44 305.35 L153.87 319.69 L154.3 334.65 L154.73 349.61 L155.16 363.95 L155.59 377.07 L156.01 388.34 L156.44 397.15 L156.87 402.89 L157.3 404.94 L157.74 402.14 L158.18 394.38 L158.62 382.67 L159.07 368 L159.51 351.34 L159.95 333.69 L160.39 316.04 L160.83 299.38 L161.28 284.7 L161.72 272.99 L162.16 265.24 L162.6 262.44 L163.02 263.61 L163.43 266.87 L163.85 271.84 L164.26 278.14 L164.68 285.39 L165.09 293.21 L165.51 301.22 L165.92 309.04 L166.34 316.29 L166.75 322.59 L167.17 327.56 L167.58 330.82 L168 332 L168.43 330.97 L168.86 328.19 L169.29 324.09 L169.72 319.11 L170.15 313.69 L170.58 308.27 L171.01 303.29 L171.44 299.19 L171.87 296.41 L172.3 295.39 L172.73 296.57 L173.15 299.83 L173.58 304.69 L174.01 310.71 L174.44 317.41 L174.86 324.34 L175.29 331.04 L175.72 337.06 L176.15 341.92 L176.57 345.18 L177 346.37 L177.43 345.1 L177.86 341.57 L178.29 336.19 L178.72 329.38 L179.15 321.54 L179.58 313.08 L180.02 304.42 L180.45 295.96 L180.88 288.12 L181.31 281.3 L181.74 275.93 L182.17 272.4 L182.6 271.13 L183.04 274.32 L183.49 282.87 L183.93 295.24 L184.38 309.91 L184.82 325.34 L185.27 340.01 L185.71 352.39 L186.16 360.93 L186.6 364.12 L187.02 362.26 L187.44 357.17 L187.85 349.55 L188.27 340.14 L188.69 329.64 L189.11 318.79 L189.53 308.3 L189.95 298.88 L190.36 291.27 L190.78 286.17 L191.2 284.31 L191.63 285.06 L192.05 287.11 L192.48 290.18 L192.91 293.97 L193.34 298.19 L193.76 302.56 L194.19 306.78 L194.62 310.57 L195.05 313.64 L195.47 315.69 L195.9 316.44 L196.31 316.13 L196.72 315.34 L197.14 314.21 L197.55 312.91 L197.96 311.62 L198.38 310.49 L198.79 309.69 L199.2 309.39 L199.65 310.32 L200.09 312.87 L200.54 316.69 L200.98 321.41 L201.43 326.67 L201.87 332.11 L202.32 337.37 L202.76 342.08 L203.21 345.9 L203.65 348.45 L204.1 349.39 L204.53 347.44 L204.95 342.05 L205.38 333.91 L205.8 323.71 L206.22 312.13 L206.65 299.87 L207.07 287.61 L207.5 276.03 L207.92 265.83 L208.35 257.69 L208.77 252.3 L209.2 250.36 L209.64 254.64 L210.09 266.11 L210.53 282.72 L210.98 302.42 L211.42 323.14 L211.87 342.83 L212.31 359.44 L212.76 370.91 L213.2 375.2 L213.62 371.76 L214.04 362.56 L214.47 349.24 L214.89 333.44 L215.31 316.82 L215.73 301.03 L216.16 287.7 L216.58 278.5 L217 275.07 L217.44 276.87 L217.88 281.75 L218.32 288.95 L218.76 297.68 L219.2 307.19 L219.64 316.7 L220.08 325.44 L220.52 332.64 L220.96 337.52 L221.4 339.32 L221.85 338.31 L222.3 335.49 L222.75 331.16 L223.2 325.62 L223.65 319.17 L224.1 312.12 L224.55 304.77 L225 297.41 L225.45 290.36 L225.9 283.92 L226.35 278.38 L226.8 274.04 L227.25 271.22 L227.7 270.22 L228.12 272.26 L228.53 277.93 L228.95 286.48 L229.37 297.2 L229.78 309.36 L230.2 322.25 L230.62 335.14 L231.03 347.3 L231.45 358.02 L231.87 366.57 L232.28 372.23 L232.7 374.28 L233.12 372.12 L233.53 366.14 L233.95 357.1 L234.37 345.78 L234.78 332.93 L235.2 319.32 L235.62 305.71 L236.03 292.86 L236.45 281.53 L236.87 272.5 L237.28 266.52 L237.7 264.36 L238.11 266.94 L238.52 273.94 L238.93 284.27 L239.34 296.8 L239.75 310.44 L240.16 324.08 L240.57 336.62 L240.98 346.94 L241.39 353.94 L241.8 356.52 L242.25 354.26 L242.7 348.1 L243.15 339.03 L243.6 328.01 L244.05 316.02 L244.5 304.04 L244.95 293.02 L245.4 283.95 L245.85 277.79 L246.3 275.53 L246.74 277.05 L247.18 281.25 L247.62 287.61 L248.07 295.58 L248.51 304.62 L248.95 314.19 L249.39 323.77 L249.83 332.81 L250.28 340.78 L250.72 347.13 L251.16 351.34 L251.6 352.86 L252.03 351.17 L252.45 346.52 L252.88 339.58 L253.31 331 L253.74 321.43 L254.16 311.53 L254.59 301.97 L255.02 293.39 L255.45 286.44 L255.87 281.8 L256.3 280.1 L256.73 281.31 L257.15 284.62 L257.58 289.58 L258.01 295.7 L258.44 302.52 L258.86 309.58 L259.29 316.4 L259.72 322.52 L260.15 327.47 L260.57 330.79 L261 332 L261.42 331.54 L261.83 330.27 L262.25 328.35 L262.67 325.94 L263.08 323.22 L263.5 320.33 L263.92 317.44 L264.33 314.71 L264.75 312.3 L265.17 310.39 L265.58 309.12 L266 308.66 L266.41 309.45 L266.83 311.49 L267.24 314.28 L267.66 317.32 L268.07 320.1 L268.49 322.14 L268.9 322.93 L269.33 322.12 L269.77 319.94 L270.2 316.79 L270.63 313.05 L271.07 309.12 L271.5 305.38 L271.93 302.22 L272.37 300.04 L272.8 299.23 L273.24 300.19 L273.69 302.78 L274.13 306.51 L274.58 310.95 L275.02 315.61 L275.47 320.04 L275.91 323.78 L276.36 326.36 L276.8 327.33 L277.23 326.78 L277.67 325.25 L278.1 322.95 L278.53 320.07 L278.97 316.79 L279.4 313.32 L279.83 309.86 L280.27 306.58 L280.7 303.7 L281.13 301.4 L281.57 299.87 L282 299.32 L282.45 300.06 L282.9 302.07 L283.35 305.03 L283.8 308.63 L284.25 312.55 L284.7 316.46 L285.15 320.06 L285.6 323.02 L286.05 325.03 L286.5 325.77 L286.91 325.02 L287.33 323.07 L287.74 320.4 L288.16 317.5 L288.57 314.84 L288.99 312.89 L289.4 312.13 L289.84 312.54 L290.29 313.57 L290.73 314.98 L291.17 316.52 L291.61 317.93 L292.06 318.96 L292.5 319.37 L292.94 319.11 L293.39 318.41 L293.83 317.32 L294.27 315.94 L294.71 314.32 L295.16 312.56 L295.6 310.72 L296.04 308.88 L296.49 307.11 L296.93 305.5 L297.37 304.11 L297.81 303.03 L298.26 302.32 L298.7 302.07 L299.14 302.48 L299.57 303.6 L300.01 305.28 L300.45 307.35 L300.88 309.66 L301.32 312.05 L301.75 314.36 L302.19 316.43 L302.63 318.11 L303.06 319.23 L303.5 319.64 L303.93 319.42 L304.36 318.84 L304.79 318.05 L305.21 317.2 L305.64 316.41 L306.07 315.84 L306.5 315.61 L306.91 316.06 L307.33 317.23 L307.74 318.82 L308.16 320.55 L308.57 322.14 L308.99 323.31 L309.4 323.76 L309.82 323.08 L310.24 321.28 L310.67 318.66 L311.09 315.55 L311.51 312.29 L311.93 309.18 L312.36 306.56 L312.78 304.76 L313.2 304.08 L313.6 304.68 L314 306.28 L314.4 308.59 L314.8 311.33 L315.2 314.22 L315.6 316.96 L316 319.28 L316.4 320.87 L316.8 321.47 L317.25 320.87 L317.7 319.3 L318.15 317.07 L318.6 314.51 L319.05 311.96 L319.5 309.73 L319.95 308.16 L320.4 307.56 L320.85 307.74 L321.3 308.24 L321.75 308.98 L322.2 309.88 L322.65 310.85 L323.1 311.83 L323.55 312.73 L324 313.46 L324.45 313.96 L324.9 314.15 L325.31 313.71 L325.72 312.54 L326.13 310.85 L326.54 308.84 L326.96 306.73 L327.37 304.72 L327.78 303.03 L328.19 301.86 L328.6 301.43 L329.05 302.1 L329.5 303.95 L329.95 306.75 L330.4 310.25 L330.85 314.23 L331.3 318.45 L331.75 322.67 L332.2 326.65 L332.65 330.15 L333.1 332.95 L333.55 334.8 L334 335.47 L334.43 335.11 L334.86 334.08 L335.28 332.46 L335.71 330.35 L336.14 327.81 L336.57 324.94 L336.99 321.82 L337.42 318.53 L337.85 315.16 L338.28 311.78 L338.71 308.49 L339.13 305.37 L339.56 302.5 L339.99 299.97 L340.42 297.85 L340.84 296.23 L341.27 295.2 L341.7 294.84 L342.13 295.4 L342.55 296.93 L342.98 299.21 L343.41 302.04 L343.84 305.2 L344.26 308.46 L344.69 311.61 L345.12 314.44 L345.55 316.73 L345.97 318.26 L346.4 318.82 L346.81 318.77 L347.23 318.64 L347.64 318.44 L348.06 318.18 L348.47 317.89 L348.89 317.58 L349.3 317.26 L349.74 316.8 L350.18 316.13 L350.62 315.32 L351.06 314.42 L351.5 313.5 L351.94 312.61 L352.38 311.81 L352.82 311.17 L353.26 310.74 L353.7 310.58 L354.13 311 L354.55 312.14 L354.98 313.85 L355.41 315.97 L355.84 318.33 L356.26 320.77 L356.69 323.13 L357.12 325.24 L357.55 326.95 L357.97 328.1 L358.4 328.52 L358.82 327.94 L359.25 326.36 L359.67 323.96 L360.1 320.95 L360.52 317.54 L360.95 313.92 L361.38 310.3 L361.8 306.89 L362.23 303.88 L362.65 301.48 L363.07 299.9 L363.5 299.32 L363.93 299.65 L364.36 300.56 L364.79 301.96 L365.22 303.72 L365.65 305.75 L366.08 307.95 L366.52 310.19 L366.95 312.38 L367.38 314.42 L367.81 316.18 L368.24 317.57 L368.67 318.49 L369.1 318.82 L369.53 318.79 L369.95 318.73 L370.38 318.63 L370.81 318.51 L371.24 318.38 L371.66 318.24 L372.09 318.11 L372.52 317.99 L372.95 317.9 L373.37 317.83 L373.8 317.81 L374.21 317.84 L374.63 317.92 L375.04 318.03 L375.46 318.14 L375.87 318.25 L376.29 318.33 L376.7 318.36 L377.15 318.11 L377.59 317.43 L378.04 316.4 L378.48 315.14 L378.93 313.73 L379.37 312.28 L379.82 310.87 L380.26 309.61 L380.71 308.58 L381.15 307.9 L381.6 307.65 L382.04 307.9 L382.48 308.59 L382.93 309.62 L383.37 310.92 L383.81 312.4 L384.25 313.97 L384.69 315.53 L385.13 317.01 L385.57 318.31 L386.02 319.35 L386.46 320.03 L386.9 320.28 L387.33 320.11 L387.76 319.64 L388.19 318.93 L388.62 318.03 L389.05 316.99 L389.48 315.87 L389.92 314.72 L390.35 313.6 L390.78 312.56 L391.21 311.65 L391.64 310.94 L392.07 310.47 L392.5 310.3 L392.93 310.43 L393.35 310.77 L393.78 311.27 L394.21 311.9 L394.64 312.6 L395.06 313.32 L395.49 314.02 L395.92 314.64 L396.35 315.15 L396.77 315.49 L397.2 315.61 L397.61 315.61 L398.03 315.61 L398.44 315.59 L398.86 315.56 L399.27 315.51 L399.69 315.44 L400.1 315.34" stroke="#0000ff"/>
<path d="M81.5 313 L81.93 310.92 L82.36 308.96 L82.79 307.14 L83.22 305.49 L83.65 304.03 L84.08 302.79 L84.51 301.78 L84.94 301.03 L85.37 300.56 L85.8 300.4 L86.24 300.61 L86.69 301.23 L87.13 302.2 L87.57 303.49 L88.01 305.05 L88.46 306.84 L88.9 308.83 L89.34 310.96 L89.79 313.19 L90.23 315.49 L90.67 317.81 L91.11 320.11 L91.56 322.34 L92 324.47 L92.44 326.46 L92.89 328.25 L93.33 329.81 L93.77 331.1 L94.21 332.07 L94.66 332.69 L95.1 332.9 L95.53 332.69 L95.95 332.09 L96.38 331.15 L96.81 329.93 L97.23 328.48 L97.66 326.84 L98.09 325.07 L98.51 323.22 L98.94 321.33 L99.37 319.48 L99.79 317.69 L100.22 316.03 L100.65 314.54 L101.07 313.28 L101.5 312.3 L101.88 311.7 L102.25 311.23 L102.62 310.72 L103 310 L103.42 308.14 L103.84 304.84 L104.27 300.53 L104.69 295.68 L105.11 290.71 L105.53 286.08 L105.96 282.22 L106.38 279.58 L106.8 278.6 L107.22 281.39 L107.65 288.76 L108.08 299.17 L108.5 311.1 L108.92 323.03 L109.35 333.44 L109.78 340.81 L110.2 343.6 L110.62 341.04 L111.03 334.66 L111.45 326.35 L111.87 318.04 L112.28 311.66 L112.7 309.1 L113.14 311.25 L113.59 316.79 L114.03 324.37 L114.47 332.63 L114.91 340.21 L115.36 345.75 L115.8 347.9 L116.2 346.07 L116.6 341.15 L117 334.03 L117.4 325.59 L117.8 316.71 L118.2 308.27 L118.6 301.15 L119 296.23 L119.4 294.4 L119.83 296.28 L120.27 300.99 L120.7 307.1 L121.13 313.21 L121.57 317.92 L122 319.8 L122.39 318.25 L122.77 314.25 L123.16 308.78 L123.54 302.82 L123.93 297.35 L124.31 293.35 L124.7 291.8 L125.14 294.24 L125.58 300.68 L126.01 309.77 L126.45 320.2 L126.89 330.63 L127.32 339.72 L127.76 346.16 L128.2 348.6 L128.64 345.59 L129.07 337.66 L129.51 326.45 L129.95 313.6 L130.39 300.75 L130.82 289.54 L131.26 281.61 L131.7 278.6 L132.13 282.05 L132.56 290.93 L132.99 303.08 L133.41 316.32 L133.84 328.47 L134.27 337.35 L134.7 340.8 L135.11 339.52 L135.52 336.08 L135.93 331.1 L136.34 325.2 L136.76 319 L137.17 313.1 L137.58 308.12 L137.99 304.68 L138.4 303.4 L138.81 304.23 L139.23 306.35 L139.64 309.26 L140.06 312.44 L140.47 315.35 L140.89 317.47 L141.3 318.3 L141.7 317.62 L142.1 315.91 L142.5 313.7 L142.9 311.49 L143.3 309.78 L143.7 309.1 L144.1 310.09 L144.5 312.73 L144.9 316.57 L145.3 321.11 L145.7 325.89 L146.1 330.43 L146.5 334.27 L146.9 336.91 L147.3 337.9 L147.72 336.48 L148.13 332.56 L148.55 326.63 L148.97 319.21 L149.38 310.78 L149.8 301.85 L150.22 292.92 L150.63 284.49 L151.05 277.07 L151.47 271.14 L151.88 267.22 L152.3 265.8 L152.72 268.25 L153.13 275.01 L153.55 285.22 L153.97 298.03 L154.38 312.56 L154.8 327.95 L155.22 343.34 L155.63 357.87 L156.05 370.68 L156.47 380.89 L156.88 387.65 L157.3 390.1 L157.72 387.75 L158.13 381.26 L158.55 371.46 L158.97 359.17 L159.38 345.22 L159.8 330.45 L160.22 315.68 L160.63 301.73 L161.05 289.44 L161.47 279.64 L161.88 273.15 L162.3 270.8 L162.74 271.86 L163.18 274.8 L163.62 279.29 L164.05 284.98 L164.49 291.52 L164.93 298.58 L165.37 305.82 L165.81 312.88 L166.25 319.42 L166.68 325.11 L167.12 329.6 L167.56 332.54 L168 333.6 L168.45 331.33 L168.9 325.35 L169.35 316.89 L169.8 307.2 L170.25 297.51 L170.7 289.05 L171.15 283.07 L171.6 280.8 L172.02 282.33 L172.43 286.56 L172.85 292.96 L173.27 300.97 L173.68 310.07 L174.1 319.7 L174.52 329.33 L174.93 338.43 L175.35 346.44 L175.77 352.84 L176.18 357.07 L176.6 358.6 L177.03 357.29 L177.46 353.61 L177.89 347.97 L178.31 340.76 L178.74 332.36 L179.17 323.18 L179.6 313.6 L180.03 304.02 L180.46 294.84 L180.89 286.44 L181.31 279.23 L181.74 273.59 L182.17 269.91 L182.6 268.6 L183.03 271.24 L183.46 278.41 L183.89 288.97 L184.32 301.79 L184.75 315.75 L185.18 329.71 L185.61 342.53 L186.04 353.09 L186.47 360.26 L186.9 362.9 L187.32 360.8 L187.74 355.06 L188.15 346.47 L188.57 335.85 L188.99 324.02 L189.41 311.78 L189.83 299.95 L190.25 289.33 L190.66 280.74 L191.08 275 L191.5 272.9 L191.94 274.62 L192.38 279.29 L192.82 286.16 L193.26 294.51 L193.7 303.6 L194.14 312.69 L194.58 321.04 L195.02 327.91 L195.46 332.58 L195.9 334.3 L196.33 333.32 L196.76 330.67 L197.19 326.76 L197.62 322.02 L198.05 316.85 L198.48 311.68 L198.91 306.94 L199.34 303.03 L199.77 300.38 L200.2 299.4 L200.63 300.75 L201.06 304.4 L201.49 309.79 L201.92 316.33 L202.35 323.45 L202.78 330.57 L203.21 337.11 L203.64 342.5 L204.07 346.15 L204.5 347.5 L204.93 345.51 L205.35 340.07 L205.78 331.93 L206.21 321.87 L206.64 310.65 L207.06 299.05 L207.49 287.83 L207.92 277.77 L208.35 269.63 L208.77 264.19 L209.2 262.2 L209.64 265.73 L210.09 275.19 L210.53 288.88 L210.98 305.11 L211.42 322.19 L211.87 338.42 L212.31 352.11 L212.76 361.57 L213.2 365.1 L213.65 362.64 L214.1 355.96 L214.55 346.11 L215 334.16 L215.45 321.15 L215.9 308.14 L216.35 296.19 L216.8 286.34 L217.25 279.66 L217.7 277.2 L218.14 279.38 L218.59 285.23 L219.03 293.69 L219.48 303.72 L219.92 314.28 L220.37 324.31 L220.81 332.77 L221.26 338.62 L221.7 340.8 L222.13 339.95 L222.55 337.57 L222.98 333.88 L223.41 329.14 L223.83 323.56 L224.26 317.39 L224.69 310.87 L225.11 304.23 L225.54 297.71 L225.97 291.54 L226.39 285.96 L226.82 281.22 L227.25 277.53 L227.67 275.15 L228.1 274.3 L228.53 276.86 L228.95 283.9 L229.38 294.4 L229.81 307.39 L230.24 321.86 L230.66 336.84 L231.09 351.31 L231.52 364.3 L231.95 374.8 L232.37 381.84 L232.8 384.4 L233.25 381.42 L233.69 373.25 L234.14 361.05 L234.58 345.96 L235.03 329.15 L235.47 311.75 L235.92 294.94 L236.36 279.85 L236.81 267.65 L237.25 259.48 L237.7 256.5 L238.11 259.68 L238.52 268.31 L238.93 281.04 L239.34 296.49 L239.75 313.3 L240.16 330.11 L240.57 345.56 L240.98 358.29 L241.39 366.92 L241.8 370.1 L242.24 366.92 L242.68 358.3 L243.12 345.58 L243.56 330.15 L244 313.35 L244.44 296.55 L244.88 281.12 L245.32 268.4 L245.76 259.78 L246.2 256.6 L246.63 259.44 L247.06 267.14 L247.49 278.48 L247.92 292.26 L248.35 307.25 L248.78 322.24 L249.21 336.02 L249.64 347.36 L250.07 355.06 L250.5 357.9 L250.94 356.84 L251.39 353.87 L251.83 349.3 L252.27 343.47 L252.71 336.68 L253.16 329.25 L253.6 321.5 L254.04 313.75 L254.49 306.32 L254.93 299.53 L255.37 293.7 L255.81 289.13 L256.26 286.16 L256.7 285.1 L257.13 286.45 L257.56 290.11 L257.99 295.51 L258.42 302.07 L258.85 309.2 L259.28 316.33 L259.71 322.89 L260.14 328.29 L260.57 331.95 L261 333.3 L261.42 332.59 L261.84 330.65 L262.25 327.75 L262.67 324.16 L263.09 320.17 L263.51 316.03 L263.93 312.04 L264.35 308.45 L264.76 305.55 L265.18 303.61 L265.6 302.9 L266.01 303.97 L266.43 306.79 L266.84 310.78 L267.25 315.35 L267.66 319.92 L268.07 323.91 L268.49 326.73 L268.9 327.8 L269.33 326.8 L269.77 324.11 L270.2 320.23 L270.63 315.62 L271.07 310.78 L271.5 306.17 L271.93 302.29 L272.37 299.6 L272.8 298.6 L273.21 299.66 L273.62 302.53 L274.03 306.76 L274.44 311.91 L274.85 317.5 L275.26 323.09 L275.67 328.24 L276.08 332.47 L276.49 335.34 L276.9 336.4 L277.35 335.3 L277.79 332.28 L278.24 327.76 L278.68 322.19 L279.13 315.97 L279.57 309.53 L280.02 303.31 L280.46 297.74 L280.91 293.22 L281.35 290.2 L281.8 289.1 L282.25 290.53 L282.7 294.39 L283.15 300.09 L283.6 307.02 L284.05 314.55 L284.5 322.08 L284.95 329.01 L285.4 334.71 L285.85 338.57 L286.3 340 L286.73 338.87 L287.16 335.8 L287.59 331.27 L288.02 325.78 L288.45 319.8 L288.88 313.82 L289.31 308.33 L289.74 303.8 L290.17 300.73 L290.6 299.6 L291.04 300.31 L291.49 302.22 L291.93 304.99 L292.38 308.27 L292.82 311.73 L293.27 315.01 L293.71 317.78 L294.16 319.69 L294.6 320.4 L295.03 319.88 L295.46 318.48 L295.89 316.4 L296.32 313.89 L296.75 311.15 L297.18 308.41 L297.61 305.9 L298.04 303.82 L298.47 302.42 L298.9 301.9 L299.33 302.49 L299.76 304.1 L300.19 306.48 L300.62 309.36 L301.05 312.5 L301.48 315.64 L301.91 318.52 L302.34 320.9 L302.77 322.51 L303.2 323.1 L303.61 322.67 L304.02 321.52 L304.44 319.9 L304.85 318.05 L305.26 316.2 L305.68 314.58 L306.09 313.43 L306.5 313 L306.9 313.37 L307.3 314.33 L307.7 315.69 L308.1 317.25 L308.5 318.81 L308.9 320.17 L309.3 321.13 L309.7 321.5 L310.14 320.7 L310.57 318.59 L311.01 315.61 L311.45 312.2 L311.89 308.79 L312.32 305.81 L312.76 303.7 L313.2 302.9 L313.6 303.6 L314 305.47 L314.4 308.19 L314.8 311.41 L315.2 314.79 L315.6 318.01 L316 320.73 L316.4 322.6 L316.8 323.3 L317.24 322.54 L317.69 320.5 L318.13 317.54 L318.58 314.04 L319.02 310.36 L319.47 306.86 L319.91 303.9 L320.36 301.86 L320.8 301.1 L321.23 301.84 L321.66 303.86 L322.09 306.82 L322.52 310.43 L322.95 314.35 L323.38 318.27 L323.81 321.88 L324.24 324.84 L324.67 326.86 L325.1 327.6 L325.52 326.79 L325.94 324.58 L326.36 321.34 L326.78 317.39 L327.2 313.1 L327.62 308.81 L328.04 304.86 L328.46 301.62 L328.88 299.41 L329.3 298.6 L329.75 299.26 L330.2 301.1 L330.65 303.87 L331.1 307.34 L331.55 311.28 L332 315.45 L332.45 319.62 L332.9 323.56 L333.35 327.03 L333.8 329.8 L334.25 331.64 L334.7 332.3 L335.14 331.98 L335.57 331.09 L336.01 329.71 L336.45 327.91 L336.89 325.78 L337.32 323.41 L337.76 320.87 L338.2 318.25 L338.64 315.63 L339.07 313.09 L339.51 310.72 L339.95 308.59 L340.39 306.79 L340.82 305.41 L341.26 304.52 L341.7 304.2 L342.14 304.35 L342.58 304.77 L343.02 305.43 L343.46 306.29 L343.89 307.33 L344.33 308.5 L344.77 309.78 L345.21 311.12 L345.65 312.5 L346.09 313.88 L346.53 315.22 L346.97 316.5 L347.41 317.67 L347.84 318.71 L348.28 319.57 L348.72 320.23 L349.16 320.65 L349.6 320.8 L350.03 320.56 L350.45 319.88 L350.88 318.88 L351.31 317.64 L351.74 316.26 L352.16 314.84 L352.59 313.46 L353.02 312.22 L353.45 311.22 L353.87 310.54 L354.3 310.3 L354.71 310.71 L355.12 311.82 L355.53 313.45 L355.94 315.44 L356.35 317.6 L356.76 319.76 L357.17 321.75 L357.58 323.38 L357.99 324.49 L358.4 324.9 L358.82 324.44 L359.25 323.17 L359.67 321.24 L360.1 318.83 L360.52 316.1 L360.95 313.2 L361.38 310.3 L361.8 307.57 L362.23 305.16 L362.65 303.23 L363.07 301.96 L363.5 301.5 L363.95 302.02 L364.4 303.44 L364.85 305.54 L365.3 308.08 L365.75 310.85 L366.2 313.62 L366.65 316.16 L367.1 318.26 L367.55 319.68 L368 320.2 L368.43 319.98 L368.86 319.38 L369.29 318.49 L369.72 317.42 L370.15 316.25 L370.58 315.08 L371.01 314.01 L371.44 313.12 L371.87 312.52 L372.3 312.3 L372.74 312.45 L373.18 312.85 L373.62 313.44 L374.06 314.17 L374.5 314.95 L374.94 315.73 L375.38 316.46 L375.82 317.05 L376.26 317.45 L376.7 317.6 L377.14 317.35 L377.58 316.65 L378.02 315.6 L378.47 314.28 L378.91 312.79 L379.35 311.2 L379.79 309.61 L380.23 308.12 L380.68 306.8 L381.12 305.75 L381.56 305.05 L382 304.8 L382.44 305.36 L382.88 306.89 L383.32 309.14 L383.76 311.88 L384.2 314.85 L384.64 317.82 L385.08 320.56 L385.52 322.81 L385.96 324.34 L386.4 324.9 L386.84 324.61 L387.28 323.8 L387.72 322.56 L388.15 320.99 L388.59 319.19 L389.03 317.25 L389.47 315.25 L389.91 313.31 L390.35 311.51 L390.78 309.94 L391.22 308.7 L391.66 307.89 L392.1 307.6 L392.53 307.75 L392.95 308.15 L393.38 308.76 L393.8 309.52 L394.23 310.38 L394.65 311.3 L395.07 312.22 L395.5 313.08 L395.93 313.84 L396.35 314.45 L396.77 314.85 L397.2 315 L397.61 315 L398.03 314.98 L398.44 314.93 L398.86 314.83 L399.27 314.67 L399.69 314.43 L400.1 314.1" stroke="#ff0000"/>
</g>
<rect x="55" y="230.17" width="349.6" height="186.1" fill="none" stroke="#000000" stroke-width="0.8"/>
<line x1="51.5" y1="254.2" x2="55" y2="254.2" stroke="#000000" stroke-width="0.8"/>
<text x="47.7" y="259.3" text-anchor="end" font-family='"Liberation Sans", sans-serif' font-size="13.6" fill="#000">10</text>
<line x1="51.5" y1="284.22" x2="55" y2="284.22" stroke="#000000" stroke-width="0.8"/>
<text x="47.7" y="289.32" text-anchor="end" font-family='"Liberation Sans", sans-serif' font-size="13.6" fill="#000">5</text>
<line x1="51.5" y1="314.24" x2="55" y2="314.24" stroke="#000000" stroke-width="0.8"/>
<text x="47.7" y="319.34" text-anchor="end" font-family='"Liberation Sans", sans-serif' font-size="13.6" fill="#000">0</text>
<line x1="51.5" y1="344.26" x2="55" y2="344.26" stroke="#000000" stroke-width="0.8"/>
<text x="47.7" y="349.36" text-anchor="end" font-family='"Liberation Sans", sans-serif' font-size="13.6" fill="#000">−5</text>
<line x1="51.5" y1="374.28" x2="55" y2="374.28" stroke="#000000" stroke-width="0.8"/>
<text x="47.7" y="379.38" text-anchor="end" font-family='"Liberation Sans", sans-serif' font-size="13.6" fill="#000">−10</text>
<line x1="51.5" y1="404.3" x2="55" y2="404.3" stroke="#000000" stroke-width="0.8"/>
<text x="47.7" y="409.4" text-anchor="end" font-family='"Liberation Sans", sans-serif' font-size="13.6" fill="#000">−15</text>
<line x1="55" y1="416.27" x2="55" y2="419.77" stroke="#000000" stroke-width="0.8"/>
<line x1="119.12" y1="416.27" x2="119.12" y2="419.77" stroke="#000000" stroke-width="0.8"/>
<line x1="183.24" y1="416.27" x2="183.24" y2="419.77" stroke="#000000" stroke-width="0.8"/>
<line x1="247.36" y1="416.27" x2="247.36" y2="419.77" stroke="#000000" stroke-width="0.8"/>
<line x1="311.48" y1="416.27" x2="311.48" y2="419.77" stroke="#000000" stroke-width="0.8"/>
<line x1="375.6" y1="416.27" x2="375.6" y2="419.77" stroke="#000000" stroke-width="0.8"/>
<text transform="translate(19 323.22) rotate(-90)" text-anchor="middle" font-family='"Liberation Sans", sans-serif' font-size="15.4" fill="#000">Velocity X (mm/s)</text>
<text x="0.4" y="241.12" font-family='"Liberation Sans", sans-serif' font-weight="700" font-size="15.8" fill="#000">(b)</text>
<text x="394.6" y="249.02" text-anchor="end" xml:space="preserve" font-family='"Liberation Sans", sans-serif' font-size="13.55" fill="#000">Input Duration:  8.29s</text>
<g clip-path="url(#cr1)" fill="none" stroke-width="1.5" stroke-linejoin="round" stroke-linecap="butt">
<path d="M466.6 407.5 L469.58 407.5 L472.57 407.23 L475.55 407.23 L478.53 406.77 L481.52 406.95 L484.5 407.5 L487.48 407.23 L490.46 405.86 L493.45 404.76 L496.43 403.57 L499.41 402.2 L502.4 401.65 L505.38 390.7 L508.36 385.85 L511.35 396.36 L514.33 373.34 L517.31 351.7 L520.29 342.66 L523.28 323.66 L526.26 365.49 L529.24 407.04 L532.23 355.9 L535.21 361.56 L538.19 324.39 L541.18 272.33 L544.16 299.27 L547.14 367.68 L550.12 368.87 L553.11 372.79 L556.09 396.18 L559.07 390.7 L562.06 364.76 L565.04 396.27 L568.02 332.61 L571 299.27 L573.99 282.83 L576.97 366.22 L579.95 379.19 L582.94 278.72 L585.92 242.47 L588.9 259.55 L591.89 316.17 L594.87 351.97 L597.85 381.01 L600.84 375.72 L603.82 373.8 L606.8 359.1 L609.78 359.1 L612.77 366.4 L615.75 375.81 L618.73 400.92 L621.72 394.26 L624.7 383.57 L627.68 358.55 L630.66 380.1 L633.65 401.65 L636.63 361.74 L639.61 355.17 L642.6 370.97 L645.58 387.41 L648.56 375.53 L651.55 362.66 L654.53 365.85 L657.51 376.17 L660.5 387.41 L663.48 390.33 L666.46 398.09 L669.44 397.55 L672.43 393.34 L675.41 396.27" stroke="#0000ff"/>
<path d="M466.6 402.2 L469.58 402.66 L472.57 403.21 L475.55 404.67 L478.53 405.76 L481.52 405.49 L484.5 403.66 L487.48 396.91 L490.46 407.23 L493.45 404.03 L496.43 404.39 L499.41 405.03 L502.4 405.03 L505.38 398.64 L508.36 389.33 L511.35 400.1 L514.33 384.39 L517.31 382.93 L520.29 365.76 L523.28 347.95 L526.26 375.81 L529.24 397.55 L532.23 365.76 L535.21 369.6 L538.19 351.79 L541.18 334.16 L544.16 363.2 L547.14 396.36 L550.12 374.53 L553.11 392.7 L556.09 382.38 L559.07 375.63 L562.06 372.52 L565.04 398.91 L568.02 339 L571 299.73 L573.99 289.78 L576.97 400.19 L579.95 343.57 L582.94 286.94 L585.92 238.63 L588.9 239.82 L591.89 288.77 L594.87 339 L597.85 360.1 L600.84 372.25 L603.82 375.99 L606.8 365.31 L609.78 379.19 L612.77 350.69 L615.75 358.18 L618.73 381.47 L621.72 388.96 L624.7 379.1 L627.68 359.55 L630.66 390.24 L633.65 382.29 L636.63 365.85 L639.61 366.49 L642.6 381.74 L645.58 388.41 L648.56 387.86 L651.55 365.31 L654.53 366.49 L657.51 368.32 L660.5 376.27 L663.48 390.79 L666.46 399.37 L669.44 401.93 L672.43 401.93 L675.41 396.45" stroke="#ff0000"/>
</g>
<rect x="466.4" y="230.17" width="209.8" height="186.1" fill="none" stroke="#000000" stroke-width="0.8"/>
<line x1="462.9" y1="407.5" x2="466.4" y2="407.5" stroke="#000000" stroke-width="0.8"/>
<text x="459.1" y="412.6" text-anchor="end" font-family='"Liberation Sans", sans-serif' font-size="13.6" fill="#000">0.0</text>
<line x1="462.9" y1="361.83" x2="466.4" y2="361.83" stroke="#000000" stroke-width="0.8"/>
<text x="459.1" y="366.94" text-anchor="end" font-family='"Liberation Sans", sans-serif' font-size="13.6" fill="#000">0.5</text>
<line x1="462.9" y1="316.17" x2="466.4" y2="316.17" stroke="#000000" stroke-width="0.8"/>
<text x="459.1" y="321.27" text-anchor="end" font-family='"Liberation Sans", sans-serif' font-size="13.6" fill="#000">1.0</text>
<line x1="462.9" y1="270.5" x2="466.4" y2="270.5" stroke="#000000" stroke-width="0.8"/>
<text x="459.1" y="275.61" text-anchor="end" font-family='"Liberation Sans", sans-serif' font-size="13.6" fill="#000">1.5</text>
<line x1="466.4" y1="416.27" x2="466.4" y2="419.77" stroke="#000000" stroke-width="0.8"/>
<line x1="536.33" y1="416.27" x2="536.33" y2="419.77" stroke="#000000" stroke-width="0.8"/>
<line x1="606.27" y1="416.27" x2="606.27" y2="419.77" stroke="#000000" stroke-width="0.8"/>
<line x1="676.2" y1="416.27" x2="676.2" y2="419.77" stroke="#000000" stroke-width="0.8"/>
<text transform="translate(433.6 323.22) rotate(-90)" text-anchor="middle" font-family='"Liberation Sans", sans-serif' font-size="15.4" fill="#000">Amplitude X (mm/s)</text>
<rect x="55" y="430.2" width="34.5" height="186.1" fill="#e0e0e0"/>
<g clip-path="url(#cl2)" fill="none" stroke-width="1.5" stroke-linejoin="round" stroke-linecap="butt">
<path d="M55.4 508.15 L55.84 508.15 L56.28 508.15 L56.72 508.15 L57.16 508.15 L57.6 508.16 L58.04 508.16 L58.48 508.17 L58.92 508.17 L59.36 508.17 L59.8 508.18 L60.24 508.19 L60.68 508.19 L61.12 508.2 L61.56 508.21 L62 508.22 L62.44 508.23 L62.88 508.24 L63.32 508.25 L63.76 508.26 L64.2 508.28 L64.64 508.29 L65.08 508.3 L65.52 508.32 L65.96 508.33 L66.4 508.35 L66.83 508.38 L67.27 508.45 L67.7 508.54 L68.13 508.66 L68.57 508.8 L69 508.96 L69.43 509.13 L69.87 509.31 L70.3 509.5 L70.73 509.69 L71.17 509.88 L71.6 510.06 L72.03 510.24 L72.47 510.4 L72.9 510.55 L73.35 510.68 L73.8 510.79 L74.25 510.89 L74.7 510.99 L75.15 511.11 L75.6 511.25 L76.05 511.43 L76.5 511.65 L76.9 512.16 L77.3 513.11 L77.7 514.31 L78.1 515.57 L78.5 516.71 L78.9 517.53 L79.3 517.85 L79.73 517.58 L80.16 516.81 L80.58 515.61 L81.01 514.04 L81.44 512.15 L81.87 510.02 L82.29 507.7 L82.72 505.26 L83.15 502.75 L83.58 500.24 L84.01 497.8 L84.43 495.48 L84.86 493.35 L85.29 491.46 L85.72 489.89 L86.14 488.69 L86.57 487.92 L87 487.65 L87.43 487.98 L87.87 488.92 L88.3 490.4 L88.73 492.37 L89.17 494.76 L89.6 497.5 L90.03 500.54 L90.47 503.79 L90.9 507.21 L91.33 510.73 L91.77 514.27 L92.2 517.79 L92.63 521.21 L93.07 524.46 L93.5 527.5 L93.93 530.24 L94.37 532.63 L94.8 534.6 L95.23 536.08 L95.67 537.02 L96.1 537.35 L96.51 537.05 L96.93 536.24 L97.34 535.02 L97.76 533.49 L98.17 531.76 L98.59 529.95 L99 528.15 L99.4 526.31 L99.8 524.19 L100.2 521.78 L100.6 519.1 L101 516.15 L101.44 512.45 L101.88 508.16 L102.32 503.32 L102.76 497.97 L103.2 492.15 L103.6 485.16 L104 475.96 L104.4 465.75 L104.8 455.73 L105.2 447.1 L105.6 441.04 L106 438.75 L106.42 441.63 L106.84 449.45 L107.26 460.98 L107.68 474.97 L108.1 490.2 L108.52 505.43 L108.94 519.42 L109.36 530.95 L109.78 538.77 L110.2 541.65 L110.62 540.59 L111.03 537.94 L111.45 534.5 L111.87 531.06 L112.28 528.41 L112.7 527.35 L113.12 529.1 L113.53 533.47 L113.95 539.15 L114.37 544.83 L114.78 549.2 L115.2 550.95 L115.63 548.71 L116.06 542.63 L116.49 533.67 L116.92 522.79 L117.35 510.95 L117.78 499.11 L118.21 488.23 L118.64 479.27 L119.07 473.19 L119.5 470.95 L119.92 472.55 L120.33 476.63 L120.75 482.11 L121.17 487.92 L121.58 492.95 L122 496.15 L122.4 497.61 L122.8 498.63 L123.2 499.66 L123.6 501.15 L124.02 504.49 L124.44 510.15 L124.86 517.49 L125.28 525.89 L125.7 534.72 L126.12 543.35 L126.54 551.16 L126.96 557.51 L127.38 561.79 L127.8 563.35 L128.2 559.73 L128.6 550.02 L129 535.97 L129.4 519.31 L129.8 501.79 L130.2 485.13 L130.6 471.08 L131 461.37 L131.4 457.75 L131.81 460.01 L132.22 466.07 L132.63 474.84 L133.04 485.23 L133.46 496.17 L133.87 506.56 L134.28 515.33 L134.69 521.39 L135.1 523.65 L135.51 522.94 L135.93 521.07 L136.34 518.43 L136.75 515.4 L137.16 512.37 L137.57 509.73 L137.99 507.86 L138.4 507.15 L138.8 510.44 L139.2 518.27 L139.6 527.63 L140 535.46 L140.4 538.75 L140.85 536.61 L141.3 530.98 L141.75 523.02 L142.2 513.9 L142.65 504.78 L143.1 496.82 L143.55 491.19 L144 489.05 L144.41 490.84 L144.82 495.55 L145.24 502.21 L145.65 509.85 L146.06 517.49 L146.48 524.15 L146.89 528.86 L147.3 530.65 L147.74 528.01 L148.19 520.95 L148.63 510.71 L149.08 498.58 L149.52 485.82 L149.97 473.69 L150.41 463.45 L150.86 456.39 L151.3 453.75 L151.73 455.99 L152.16 462.26 L152.59 471.89 L153.01 484.2 L153.44 498.53 L153.87 514.2 L154.3 530.55 L154.73 546.9 L155.16 562.57 L155.59 576.9 L156.01 589.21 L156.44 598.84 L156.87 605.11 L157.3 607.35 L157.74 604.29 L158.18 595.82 L158.62 583.02 L159.07 566.98 L159.51 548.78 L159.95 529.5 L160.39 510.22 L160.83 492.02 L161.28 475.98 L161.72 463.18 L162.16 454.71 L162.6 451.65 L163.02 452.93 L163.43 456.49 L163.85 461.92 L164.26 468.81 L164.68 476.73 L165.09 485.27 L165.51 494.03 L165.92 502.57 L166.34 510.49 L166.75 517.38 L167.17 522.81 L167.58 526.37 L168 527.65 L168.43 526.53 L168.86 523.49 L169.29 519.01 L169.72 513.57 L170.15 507.65 L170.58 501.73 L171.01 496.29 L171.44 491.81 L171.87 488.77 L172.3 487.65 L172.73 488.95 L173.15 492.5 L173.58 497.82 L174.01 504.39 L174.44 511.71 L174.86 519.29 L175.29 526.61 L175.72 533.18 L176.15 538.5 L176.57 542.05 L177 543.35 L177.43 541.97 L177.86 538.11 L178.29 532.24 L178.72 524.79 L179.15 516.22 L179.58 506.98 L180.02 497.52 L180.45 488.28 L180.88 479.71 L181.31 472.26 L181.74 466.39 L182.17 462.53 L182.6 461.15 L183.04 464.63 L183.49 473.97 L183.93 487.49 L184.38 503.52 L184.82 520.38 L185.27 536.41 L185.71 549.93 L186.16 559.27 L186.6 562.75 L187.02 560.72 L187.44 555.15 L187.85 546.83 L188.27 536.54 L188.69 525.08 L189.11 513.22 L189.53 501.76 L189.95 491.47 L190.36 483.15 L190.78 477.58 L191.2 475.55 L191.63 476.37 L192.05 478.61 L192.48 481.96 L192.91 486.1 L193.34 490.71 L193.76 495.49 L194.19 500.1 L194.62 504.24 L195.05 507.59 L195.47 509.83 L195.9 510.65 L196.31 510.32 L196.72 509.45 L197.14 508.21 L197.55 506.8 L197.96 505.39 L198.38 504.15 L198.79 503.28 L199.2 502.95 L199.65 503.97 L200.09 506.76 L200.54 510.93 L200.98 516.08 L201.43 521.83 L201.87 527.77 L202.32 533.52 L202.76 538.67 L203.21 542.84 L203.65 545.63 L204.1 546.65 L204.53 544.52 L204.95 538.64 L205.38 529.74 L205.8 518.6 L206.22 505.95 L206.65 492.55 L207.07 479.15 L207.5 466.5 L207.92 455.36 L208.35 446.46 L208.77 440.58 L209.2 438.45 L209.64 443.13 L210.09 455.66 L210.53 473.81 L210.98 495.33 L211.42 517.97 L211.87 539.49 L212.31 557.64 L212.76 570.17 L213.2 574.85 L213.62 571.1 L214.04 561.04 L214.47 546.49 L214.89 529.23 L215.31 511.07 L215.73 493.81 L216.16 479.26 L216.58 469.2 L217 465.45 L217.44 467.42 L217.88 472.75 L218.32 480.61 L218.76 490.16 L219.2 500.55 L219.64 510.94 L220.08 520.49 L220.52 528.35 L220.96 533.68 L221.4 535.65 L221.85 534.55 L222.3 531.47 L222.75 526.74 L223.2 520.68 L223.65 513.64 L224.1 505.93 L224.55 497.9 L225 489.87 L225.45 482.16 L225.9 475.12 L226.35 469.06 L226.8 464.33 L227.25 461.25 L227.7 460.15 L228.12 462.39 L228.53 468.57 L228.95 477.92 L229.37 489.63 L229.78 502.92 L230.2 517 L230.62 531.08 L231.03 544.37 L231.45 556.08 L231.87 565.43 L232.28 571.61 L232.7 573.85 L233.12 571.49 L233.53 564.95 L233.95 555.08 L234.37 542.71 L234.78 528.67 L235.2 513.8 L235.62 498.93 L236.03 484.89 L236.45 472.52 L236.87 462.65 L237.28 456.11 L237.7 453.75 L238.11 456.57 L238.52 464.22 L238.93 475.5 L239.34 489.2 L239.75 504.1 L240.16 519 L240.57 532.7 L240.98 543.98 L241.39 551.63 L241.8 554.45 L242.25 551.97 L242.7 545.25 L243.15 535.33 L243.6 523.3 L244.05 510.2 L244.5 497.1 L244.95 485.07 L245.4 475.15 L245.85 468.43 L246.3 465.95 L246.74 467.61 L247.18 472.21 L247.62 479.15 L248.07 487.86 L248.51 497.74 L248.95 508.2 L249.39 518.66 L249.83 528.54 L250.28 537.25 L250.72 544.19 L251.16 548.79 L251.6 550.45 L252.03 548.6 L252.45 543.52 L252.88 535.94 L253.31 526.56 L253.74 516.11 L254.16 505.29 L254.59 494.84 L255.02 485.46 L255.45 477.88 L255.87 472.8 L256.3 470.95 L256.73 472.27 L257.15 475.89 L257.58 481.3 L258.01 487.99 L258.44 495.44 L258.86 503.16 L259.29 510.61 L259.72 517.3 L260.15 522.71 L260.57 526.33 L261 527.65 L261.42 527.15 L261.83 525.76 L262.25 523.67 L262.67 521.04 L263.08 518.06 L263.5 514.9 L263.92 511.74 L264.33 508.76 L264.75 506.13 L265.17 504.04 L265.58 502.65 L266 502.15 L266.41 503.01 L266.83 505.24 L267.24 508.29 L267.66 511.61 L268.07 514.66 L268.49 516.89 L268.9 517.75 L269.33 516.86 L269.77 514.48 L270.2 511.04 L270.63 506.95 L271.07 502.65 L271.5 498.56 L271.93 495.12 L272.37 492.74 L272.8 491.85 L273.24 492.9 L273.69 495.72 L274.13 499.81 L274.58 504.65 L275.02 509.75 L275.47 514.59 L275.91 518.68 L276.36 521.5 L276.8 522.55 L277.23 521.95 L277.67 520.28 L278.1 517.77 L278.53 514.62 L278.97 511.04 L279.4 507.25 L279.83 503.46 L280.27 499.88 L280.7 496.73 L281.13 494.22 L281.57 492.55 L282 491.95 L282.45 492.76 L282.9 494.96 L283.35 498.19 L283.8 502.12 L284.25 506.4 L284.7 510.68 L285.15 514.61 L285.6 517.84 L286.05 520.04 L286.5 520.85 L286.91 520.02 L287.33 517.9 L287.74 514.99 L288.16 511.81 L288.57 508.9 L288.99 506.78 L289.4 505.95 L289.84 506.39 L290.29 507.52 L290.73 509.06 L291.17 510.74 L291.61 512.28 L292.06 513.41 L292.5 513.85 L292.94 513.57 L293.39 512.8 L293.83 511.62 L294.27 510.1 L294.71 508.34 L295.16 506.41 L295.6 504.4 L296.04 502.39 L296.49 500.46 L296.93 498.7 L297.37 497.18 L297.81 496 L298.26 495.23 L298.7 494.95 L299.14 495.4 L299.57 496.62 L300.01 498.46 L300.45 500.72 L300.88 503.24 L301.32 505.86 L301.75 508.38 L302.19 510.64 L302.63 512.48 L303.06 513.7 L303.5 514.15 L303.93 513.91 L304.36 513.28 L304.79 512.42 L305.21 511.48 L305.64 510.62 L306.07 509.99 L306.5 509.75 L306.91 510.24 L307.33 511.51 L307.74 513.25 L308.16 515.15 L308.57 516.89 L308.99 518.16 L309.4 518.65 L309.82 517.91 L310.24 515.94 L310.67 513.08 L311.09 509.68 L311.51 506.12 L311.93 502.72 L312.36 499.86 L312.78 497.89 L313.2 497.15 L313.6 497.8 L314 499.55 L314.4 502.08 L314.8 505.07 L315.2 508.23 L315.6 511.22 L316 513.75 L316.4 515.5 L316.8 516.15 L317.25 515.5 L317.7 513.78 L318.15 511.34 L318.6 508.55 L319.05 505.76 L319.5 503.32 L319.95 501.6 L320.4 500.95 L320.85 501.15 L321.3 501.7 L321.75 502.51 L322.2 503.48 L322.65 504.55 L323.1 505.62 L323.55 506.59 L324 507.4 L324.45 507.95 L324.9 508.15 L325.31 507.67 L325.72 506.4 L326.13 504.55 L326.54 502.35 L326.96 500.05 L327.37 497.85 L327.78 496 L328.19 494.73 L328.6 494.25 L329.05 494.98 L329.5 497.01 L329.95 500.06 L330.4 503.89 L330.85 508.24 L331.3 512.85 L331.75 517.46 L332.2 521.81 L332.65 525.64 L333.1 528.69 L333.55 530.72 L334 531.45 L334.43 531.05 L334.86 529.93 L335.28 528.16 L335.71 525.85 L336.14 523.08 L336.57 519.94 L336.99 516.53 L337.42 512.93 L337.85 509.25 L338.28 505.57 L338.71 501.97 L339.13 498.56 L339.56 495.42 L339.99 492.65 L340.42 490.34 L340.84 488.57 L341.27 487.45 L341.7 487.05 L342.13 487.66 L342.55 489.33 L342.98 491.83 L343.41 494.92 L343.84 498.37 L344.26 501.93 L344.69 505.38 L345.12 508.47 L345.55 510.97 L345.97 512.64 L346.4 513.25 L346.81 513.2 L347.23 513.05 L347.64 512.84 L348.06 512.56 L348.47 512.24 L348.89 511.9 L349.3 511.55 L349.74 511.05 L350.18 510.32 L350.62 509.43 L351.06 508.45 L351.5 507.44 L351.94 506.47 L352.38 505.59 L352.82 504.89 L353.26 504.42 L353.7 504.25 L354.13 504.71 L354.55 505.96 L354.98 507.83 L355.41 510.14 L355.84 512.72 L356.26 515.38 L356.69 517.96 L357.12 520.27 L357.55 522.14 L357.97 523.39 L358.4 523.85 L358.82 523.22 L359.25 521.49 L359.67 518.87 L360.1 515.58 L360.52 511.85 L360.95 507.9 L361.38 503.95 L361.8 500.22 L362.23 496.93 L362.65 494.31 L363.07 492.58 L363.5 491.95 L363.93 492.31 L364.36 493.31 L364.79 494.83 L365.22 496.76 L365.65 498.98 L366.08 501.37 L366.52 503.83 L366.95 506.22 L367.38 508.44 L367.81 510.37 L368.24 511.89 L368.67 512.89 L369.1 513.25 L369.53 513.22 L369.95 513.15 L370.38 513.05 L370.81 512.92 L371.24 512.77 L371.66 512.63 L372.09 512.48 L372.52 512.35 L372.95 512.25 L373.37 512.18 L373.8 512.15 L374.21 512.18 L374.63 512.27 L375.04 512.39 L375.46 512.51 L375.87 512.63 L376.29 512.72 L376.7 512.75 L377.15 512.48 L377.59 511.73 L378.04 510.61 L378.48 509.23 L378.93 507.7 L379.37 506.1 L379.82 504.57 L380.26 503.19 L380.71 502.07 L381.15 501.32 L381.6 501.05 L382.04 501.32 L382.48 502.07 L382.93 503.21 L383.37 504.63 L383.81 506.24 L384.25 507.95 L384.69 509.66 L385.13 511.27 L385.57 512.69 L386.02 513.83 L386.46 514.58 L386.9 514.85 L387.33 514.67 L387.76 514.16 L388.19 513.38 L388.62 512.39 L389.05 511.25 L389.48 510.03 L389.92 508.77 L390.35 507.55 L390.78 506.41 L391.21 505.42 L391.64 504.64 L392.07 504.13 L392.5 503.95 L392.93 504.09 L393.35 504.46 L393.78 505.01 L394.21 505.69 L394.64 506.46 L395.06 507.24 L395.49 508.01 L395.92 508.69 L396.35 509.24 L396.77 509.61 L397.2 509.75 L397.61 509.75 L398.03 509.74 L398.44 509.73 L398.86 509.69 L399.27 509.64 L399.69 509.56 L400.1 509.45" stroke="#0000ff"/>
<path d="M89.8 500.1 L90.23 505.51 L90.66 510.51 L91.09 515.12 L91.51 519.32 L91.94 523.12 L92.37 526.52 L92.8 529.51 L93.23 532.11 L93.66 534.31 L94.09 536.11 L94.51 537.5 L94.94 538.5 L95.37 539.1 L95.8 539.3 L96.24 538.78 L96.68 537.32 L97.12 535.08 L97.55 532.21 L97.99 528.86 L98.43 525.2 L98.87 521.38 L99.31 517.54 L99.75 513.86 L100.18 510.48 L100.62 507.55 L101.06 505.24 L101.5 503.7 L101.88 502.94 L102.25 502.4 L102.62 501.84 L103 501 L103.44 498.48 L103.88 493.88 L104.31 487.95 L104.75 481.42 L105.19 475.05 L105.62 469.57 L106.06 465.74 L106.5 464.3 L106.91 467.09 L107.32 474.59 L107.73 485.43 L108.14 498.29 L108.56 511.81 L108.97 524.67 L109.38 535.51 L109.79 543.01 L110.2 545.8 L110.59 543.84 L110.97 538.8 L111.36 531.91 L111.74 524.39 L112.13 517.5 L112.51 512.46 L112.9 510.5 L113.31 511.98 L113.73 515.79 L114.14 521.01 L114.56 526.69 L114.97 531.91 L115.39 535.72 L115.8 537.2 L116.2 535.35 L116.6 530.39 L117 523.2 L117.4 514.68 L117.8 505.72 L118.2 497.2 L118.6 490.01 L119 485.05 L119.4 483.2 L119.83 485.04 L120.27 489.63 L120.7 495.6 L121.13 501.57 L121.57 506.16 L122 508 L122.39 506.73 L122.77 503.46 L123.16 498.99 L123.54 494.11 L123.93 489.64 L124.31 486.37 L124.7 485.1 L125.11 488.14 L125.53 496.15 L125.94 507.47 L126.35 520.45 L126.76 533.43 L127.17 544.75 L127.59 552.76 L128 555.8 L128.41 552.74 L128.82 544.53 L129.23 532.65 L129.64 518.56 L130.06 503.74 L130.47 489.65 L130.88 477.77 L131.29 469.56 L131.7 466.5 L132.13 469.55 L132.56 477.4 L132.99 488.15 L133.41 499.85 L133.84 510.6 L134.27 518.45 L134.7 521.5 L135.13 520.31 L135.56 517.26 L135.99 513.08 L136.41 508.52 L136.84 504.34 L137.27 501.29 L137.7 500.1 L138.14 501.11 L138.59 503.71 L139.03 507.26 L139.47 511.14 L139.91 514.69 L140.36 517.29 L140.8 518.3 L141.2 518.07 L141.6 517.47 L142 516.62 L142.4 515.65 L142.8 514.68 L143.2 513.83 L143.6 513.23 L144 513 L144.4 513.83 L144.8 515.95 L145.2 518.86 L145.6 522.04 L146 524.95 L146.4 527.07 L146.8 527.9 L147.23 526.58 L147.67 522.93 L148.1 517.42 L148.53 510.5 L148.97 502.66 L149.4 494.35 L149.83 486.04 L150.27 478.2 L150.7 471.28 L151.13 465.77 L151.57 462.12 L152 460.8 L152.44 463.26 L152.88 470.06 L153.32 480.33 L153.77 493.21 L154.21 507.82 L154.65 523.3 L155.09 538.78 L155.53 553.39 L155.98 566.27 L156.42 576.54 L156.86 583.34 L157.3 585.8 L157.72 583.41 L158.13 576.8 L158.55 566.82 L158.97 554.3 L159.38 540.1 L159.8 525.05 L160.22 510 L160.63 495.8 L161.05 483.28 L161.47 473.3 L161.88 466.69 L162.3 464.3 L162.74 465.37 L163.18 468.35 L163.62 472.9 L164.05 478.66 L164.49 485.29 L164.93 492.44 L165.37 499.76 L165.81 506.91 L166.25 513.54 L166.68 519.3 L167.12 523.85 L167.56 526.83 L168 527.9 L168.43 526.61 L168.86 523.11 L169.29 517.94 L169.72 511.67 L170.15 504.85 L170.58 498.03 L171.01 491.76 L171.44 486.59 L171.87 483.09 L172.3 481.8 L172.72 483.27 L173.14 487.32 L173.55 493.36 L173.97 500.82 L174.39 509.15 L174.81 517.75 L175.23 526.08 L175.65 533.54 L176.06 539.58 L176.48 543.63 L176.9 545.1 L177.32 544.07 L177.74 541.18 L178.16 536.74 L178.59 531.06 L179.01 524.46 L179.43 517.23 L179.85 509.7 L180.27 502.17 L180.69 494.94 L181.11 488.34 L181.54 482.66 L181.96 478.22 L182.38 475.33 L182.8 474.3 L183.21 476.42 L183.62 482.18 L184.03 490.67 L184.44 500.98 L184.85 512.2 L185.26 523.42 L185.67 533.73 L186.08 542.22 L186.49 547.98 L186.9 550.1 L187.32 548 L187.74 542.23 L188.15 533.61 L188.57 522.96 L188.99 511.09 L189.41 498.81 L189.83 486.94 L190.25 476.29 L190.66 467.67 L191.08 461.9 L191.5 459.8 L191.94 461.93 L192.38 467.7 L192.82 476.22 L193.26 486.55 L193.7 497.8 L194.14 509.05 L194.58 519.38 L195.02 527.9 L195.46 533.67 L195.9 535.8 L196.32 534.86 L196.74 532.29 L197.15 528.44 L197.57 523.69 L197.99 518.39 L198.41 512.91 L198.83 507.61 L199.25 502.86 L199.66 499.01 L200.08 496.44 L200.5 495.5 L200.91 497.1 L201.32 501.39 L201.73 507.61 L202.14 514.97 L202.56 522.73 L202.97 530.09 L203.38 536.31 L203.79 540.6 L204.2 542.2 L204.62 540.34 L205.03 535.21 L205.45 527.47 L205.87 517.75 L206.28 506.73 L206.7 495.05 L207.12 483.37 L207.53 472.35 L207.95 462.63 L208.37 454.89 L208.78 449.76 L209.2 447.9 L209.62 451.49 L210.04 461.23 L210.46 475.59 L210.88 493.03 L211.3 512 L211.72 530.97 L212.14 548.41 L212.56 562.77 L212.98 572.51 L213.4 576.1 L213.83 572.73 L214.26 563.59 L214.69 550.12 L215.12 533.75 L215.55 515.95 L215.98 498.15 L216.41 481.78 L216.84 468.31 L217.27 459.17 L217.7 455.8 L218.14 458.36 L218.58 465.31 L219.02 475.54 L219.46 487.97 L219.9 501.5 L220.34 515.03 L220.78 527.46 L221.22 537.69 L221.66 544.64 L222.1 547.2 L222.54 545.79 L222.98 541.87 L223.42 535.9 L223.85 528.33 L224.29 519.61 L224.73 510.21 L225.17 500.59 L225.61 491.19 L226.05 482.47 L226.48 474.9 L226.92 468.93 L227.36 465.01 L227.8 463.6 L228.25 465.93 L228.69 472.32 L229.14 481.86 L229.58 493.65 L230.03 506.8 L230.47 520.4 L230.92 533.55 L231.36 545.34 L231.81 554.88 L232.25 561.27 L232.7 563.6 L233.12 561.66 L233.53 556.3 L233.95 548.21 L234.37 538.06 L234.78 526.55 L235.2 514.35 L235.62 502.15 L236.03 490.64 L236.45 480.49 L236.87 472.4 L237.28 467.04 L237.7 465.1 L238.11 467.66 L238.52 474.61 L238.93 484.84 L239.34 497.27 L239.75 510.8 L240.16 524.33 L240.57 536.76 L240.98 546.99 L241.39 553.94 L241.8 556.5 L242.23 554.11 L242.65 547.57 L243.08 537.79 L243.51 525.7 L243.94 512.22 L244.36 498.28 L244.79 484.8 L245.22 472.71 L245.65 462.93 L246.07 456.39 L246.5 454 L246.93 456.07 L247.37 461.81 L247.8 470.47 L248.23 481.33 L248.67 493.65 L249.1 506.7 L249.53 519.75 L249.97 532.07 L250.4 542.93 L250.83 551.59 L251.27 557.33 L251.7 559.4 L252.14 557.56 L252.58 552.47 L253.02 544.78 L253.47 535.13 L253.91 524.19 L254.35 512.6 L254.79 501.01 L255.23 490.07 L255.68 480.42 L256.12 472.73 L256.56 467.64 L257 465.8 L257.44 468.08 L257.89 474.19 L258.33 483.04 L258.78 493.53 L259.22 504.57 L259.67 515.06 L260.11 523.91 L260.56 530.02 L261 532.3 L261.42 531.61 L261.83 529.7 L262.25 526.82 L262.67 523.2 L263.08 519.1 L263.5 514.75 L263.92 510.4 L264.33 506.3 L264.75 502.68 L265.17 499.8 L265.58 497.89 L266 497.2 L266.41 498.25 L266.83 500.95 L267.24 504.64 L267.66 508.66 L268.07 512.35 L268.49 515.05 L268.9 516.1 L269.33 515.66 L269.75 514.45 L270.18 512.65 L270.61 510.42 L271.04 507.94 L271.46 505.36 L271.89 502.88 L272.32 500.65 L272.75 498.85 L273.17 497.64 L273.6 497.2 L274.03 497.98 L274.46 500.09 L274.89 503.2 L275.32 506.99 L275.75 511.1 L276.18 515.21 L276.61 519 L277.04 522.11 L277.47 524.22 L277.9 525 L278.33 523.6 L278.77 519.86 L279.2 514.45 L279.63 508.03 L280.07 501.27 L280.5 494.85 L280.93 489.44 L281.37 485.7 L281.8 484.3 L282.25 485.66 L282.7 489.36 L283.15 494.82 L283.6 501.44 L284.05 508.65 L284.5 515.86 L284.95 522.48 L285.4 527.94 L285.85 531.64 L286.3 533 L286.71 531.76 L287.12 528.38 L287.53 523.41 L287.94 517.37 L288.35 510.8 L288.76 504.23 L289.17 498.19 L289.58 493.22 L289.99 489.84 L290.4 488.6 L290.82 489.57 L291.24 492.19 L291.66 496.05 L292.08 500.74 L292.5 505.85 L292.92 510.96 L293.34 515.65 L293.76 519.51 L294.18 522.13 L294.6 523.1 L295.04 522.5 L295.47 520.84 L295.91 518.37 L296.35 515.32 L296.78 511.91 L297.22 508.39 L297.65 504.98 L298.09 501.93 L298.53 499.46 L298.96 497.8 L299.4 497.2 L299.82 497.49 L300.24 498.29 L300.67 499.45 L301.09 500.86 L301.51 502.38 L301.93 503.88 L302.36 505.24 L302.78 506.32 L303.2 507 L303.55 507.29 L303.9 507.5 L304.25 507.71 L304.6 508 L305.05 508.76 L305.5 509.98 L305.95 511.49 L306.4 513.11 L306.85 514.68 L307.3 516.02 L307.75 516.95 L308.2 517.3 L308.63 516.76 L309.06 515.28 L309.49 513.11 L309.92 510.47 L310.35 507.6 L310.78 504.73 L311.21 502.09 L311.64 499.92 L312.07 498.44 L312.5 497.9 L312.94 498.57 L313.39 500.35 L313.83 502.93 L314.28 505.99 L314.72 509.21 L315.17 512.27 L315.61 514.85 L316.06 516.63 L316.5 517.3 L316.93 516.39 L317.37 513.96 L317.8 510.43 L318.23 506.25 L318.67 501.85 L319.1 497.67 L319.53 494.14 L319.97 491.71 L320.4 490.8 L320.83 491.64 L321.25 493.95 L321.68 497.39 L322.11 501.65 L322.54 506.4 L322.96 511.3 L323.39 516.05 L323.82 520.31 L324.25 523.75 L324.67 526.06 L325.1 526.9 L325.52 525.85 L325.94 523 L326.36 518.8 L326.78 513.7 L327.2 508.15 L327.62 502.6 L328.04 497.5 L328.46 493.3 L328.88 490.45 L329.3 489.4 L329.75 490.18 L330.2 492.32 L330.65 495.56 L331.1 499.61 L331.55 504.22 L332 509.1 L332.45 513.98 L332.9 518.59 L333.35 522.64 L333.8 525.88 L334.25 528.02 L334.7 528.8 L335.14 528.45 L335.57 527.48 L336.01 525.96 L336.45 523.99 L336.89 521.66 L337.32 519.05 L337.76 516.27 L338.2 513.4 L338.64 510.53 L339.07 507.75 L339.51 505.14 L339.95 502.81 L340.39 500.84 L340.82 499.32 L341.26 498.35 L341.7 498 L342.08 498.06 L342.47 498.22 L342.85 498.46 L343.23 498.77 L343.62 499.12 L344 499.5 L344.44 500.25 L344.88 501.52 L345.32 503.21 L345.77 505.19 L346.21 507.37 L346.65 509.62 L347.09 511.83 L347.53 513.9 L347.98 515.7 L348.42 517.12 L348.86 518.06 L349.3 518.4 L349.74 517.94 L350.18 516.69 L350.62 514.86 L351.06 512.63 L351.5 510.2 L351.94 507.77 L352.38 505.54 L352.82 503.71 L353.26 502.46 L353.7 502 L354.13 502.43 L354.56 503.58 L354.99 505.28 L355.42 507.35 L355.85 509.6 L356.28 511.85 L356.71 513.92 L357.14 515.62 L357.57 516.77 L358 517.2 L358.44 516.75 L358.88 515.52 L359.32 513.65 L359.77 511.31 L360.21 508.66 L360.65 505.85 L361.09 503.04 L361.53 500.39 L361.98 498.05 L362.42 496.18 L362.86 494.95 L363.3 494.5 L363.73 494.99 L364.15 496.33 L364.58 498.33 L365.01 500.81 L365.44 503.57 L365.86 506.43 L366.29 509.19 L366.72 511.67 L367.15 513.67 L367.57 515.01 L368 515.5 L368.43 515.18 L368.86 514.31 L369.29 513.04 L369.72 511.49 L370.15 509.8 L370.58 508.11 L371.01 506.56 L371.44 505.29 L371.87 504.42 L372.3 504.1 L372.74 504.32 L373.18 504.92 L373.62 505.81 L374.06 506.88 L374.5 508.05 L374.94 509.22 L375.38 510.29 L375.82 511.18 L376.26 511.78 L376.7 512 L377.14 511.76 L377.58 511.09 L378.02 510.08 L378.47 508.81 L378.91 507.37 L379.35 505.85 L379.79 504.33 L380.23 502.89 L380.68 501.62 L381.12 500.61 L381.56 499.94 L382 499.7 L382.45 500.14 L382.89 501.33 L383.34 503.11 L383.78 505.32 L384.23 507.78 L384.67 510.32 L385.12 512.78 L385.56 514.99 L386.01 516.77 L386.45 517.96 L386.9 518.4 L387.32 517.98 L387.74 516.82 L388.15 515.1 L388.57 512.96 L388.99 510.58 L389.41 508.12 L389.83 505.74 L390.25 503.6 L390.66 501.88 L391.08 500.72 L391.5 500.3 L391.93 500.66 L392.37 501.63 L392.8 503.02 L393.23 504.68 L393.67 506.42 L394.1 508.08 L394.53 509.47 L394.97 510.44 L395.4 510.8 L395.84 510.71 L396.27 510.49 L396.71 510.17 L397.15 509.8 L397.59 509.43 L398.02 509.11 L398.46 508.89 L398.9 508.8 L399.3 508.92 L399.7 509.22 L400.1 509.6" stroke="#ff0000"/>
</g>
<rect x="55" y="430.2" width="349.6" height="186.1" fill="none" stroke="#000000" stroke-width="0.8"/>
<line x1="51.5" y1="442.65" x2="55" y2="442.65" stroke="#000000" stroke-width="0.8"/>
<text x="47.7" y="447.75" text-anchor="end" font-family='"Liberation Sans", sans-serif' font-size="13.6" fill="#000">10</text>
<line x1="51.5" y1="475.45" x2="55" y2="475.45" stroke="#000000" stroke-width="0.8"/>
<text x="47.7" y="480.55" text-anchor="end" font-family='"Liberation Sans", sans-serif' font-size="13.6" fill="#000">5</text>
<line x1="51.5" y1="508.25" x2="55" y2="508.25" stroke="#000000" stroke-width="0.8"/>
<text x="47.7" y="513.35" text-anchor="end" font-family='"Liberation Sans", sans-serif' font-size="13.6" fill="#000">0</text>
<line x1="51.5" y1="541.05" x2="55" y2="541.05" stroke="#000000" stroke-width="0.8"/>
<text x="47.7" y="546.15" text-anchor="end" font-family='"Liberation Sans", sans-serif' font-size="13.6" fill="#000">−5</text>
<line x1="51.5" y1="573.85" x2="55" y2="573.85" stroke="#000000" stroke-width="0.8"/>
<text x="47.7" y="578.95" text-anchor="end" font-family='"Liberation Sans", sans-serif' font-size="13.6" fill="#000">−10</text>
<line x1="51.5" y1="606.65" x2="55" y2="606.65" stroke="#000000" stroke-width="0.8"/>
<text x="47.7" y="611.75" text-anchor="end" font-family='"Liberation Sans", sans-serif' font-size="13.6" fill="#000">−15</text>
<line x1="55" y1="616.3" x2="55" y2="619.8" stroke="#000000" stroke-width="0.8"/>
<text x="55" y="632.8" text-anchor="middle" font-family='"Liberation Sans", sans-serif' font-size="13.6" fill="#000">0</text>
<line x1="119.12" y1="616.3" x2="119.12" y2="619.8" stroke="#000000" stroke-width="0.8"/>
<text x="119.12" y="632.8" text-anchor="middle" font-family='"Liberation Sans", sans-serif' font-size="13.6" fill="#000">20</text>
<line x1="183.24" y1="616.3" x2="183.24" y2="619.8" stroke="#000000" stroke-width="0.8"/>
<text x="183.24" y="632.8" text-anchor="middle" font-family='"Liberation Sans", sans-serif' font-size="13.6" fill="#000">40</text>
<line x1="247.36" y1="616.3" x2="247.36" y2="619.8" stroke="#000000" stroke-width="0.8"/>
<text x="247.36" y="632.8" text-anchor="middle" font-family='"Liberation Sans", sans-serif' font-size="13.6" fill="#000">60</text>
<line x1="311.48" y1="616.3" x2="311.48" y2="619.8" stroke="#000000" stroke-width="0.8"/>
<text x="311.48" y="632.8" text-anchor="middle" font-family='"Liberation Sans", sans-serif' font-size="13.6" fill="#000">80</text>
<line x1="375.6" y1="616.3" x2="375.6" y2="619.8" stroke="#000000" stroke-width="0.8"/>
<text x="375.6" y="632.8" text-anchor="middle" font-family='"Liberation Sans", sans-serif' font-size="13.6" fill="#000">100</text>
<text transform="translate(19 523.25) rotate(-90)" text-anchor="middle" font-family='"Liberation Sans", sans-serif' font-size="15.4" fill="#000">Velocity X (mm/s)</text>
<text x="0.4" y="441.15" font-family='"Liberation Sans", sans-serif' font-weight="700" font-size="15.8" fill="#000">(c)</text>
<text x="394.6" y="449.05" text-anchor="end" xml:space="preserve" font-family='"Liberation Sans", sans-serif' font-size="13.55" fill="#000">Input Duration:10.90s</text>
<g clip-path="url(#cr2)" fill="none" stroke-width="1.5" stroke-linejoin="round" stroke-linecap="butt">
<path d="M466.6 607.55 L469.58 607.55 L472.57 607.27 L475.55 607.27 L478.53 606.8 L481.52 606.99 L484.5 607.55 L487.48 607.27 L490.46 605.86 L493.45 604.74 L496.43 603.52 L499.41 602.12 L502.4 601.56 L505.38 590.32 L508.36 585.36 L511.35 596.13 L514.33 572.53 L517.31 550.34 L520.29 541.07 L523.28 521.6 L526.26 564.48 L529.24 607.08 L532.23 554.65 L535.21 560.45 L538.19 522.35 L541.18 468.98 L544.16 496.6 L547.14 566.73 L550.12 567.94 L553.11 571.97 L556.09 595.94 L559.07 590.32 L562.06 563.73 L565.04 596.03 L568.02 530.77 L571 496.6 L573.99 479.75 L576.97 565.23 L579.95 578.52 L582.94 475.53 L585.92 438.36 L588.9 455.87 L591.89 513.92 L594.87 550.62 L597.85 580.4 L600.84 574.97 L603.82 573 L606.8 557.93 L609.78 557.93 L612.77 565.42 L615.75 575.06 L618.73 600.81 L621.72 593.97 L624.7 583.02 L627.68 557.36 L630.66 579.46 L633.65 601.56 L636.63 560.64 L639.61 553.9 L642.6 570.1 L645.58 586.95 L648.56 574.78 L651.55 561.58 L654.53 564.85 L657.51 575.43 L660.5 586.95 L663.48 589.95 L666.46 597.91 L669.44 597.34 L672.43 593.04 L675.41 596.03" stroke="#0000ff"/>
<path d="M466.6 606.52 L469.58 602.31 L472.57 605.12 L475.55 606.15 L478.53 604.37 L481.52 602.96 L484.5 602.68 L487.48 600.15 L490.46 603.24 L493.45 605.12 L496.43 602.68 L499.41 600.81 L502.4 604.09 L505.38 592.66 L508.36 591.54 L511.35 602.96 L514.33 580.4 L517.31 578.99 L520.29 558.68 L523.28 540.79 L526.26 582.93 L529.24 589.85 L532.23 558.11 L535.21 561.58 L538.19 540.42 L541.18 518.79 L544.16 556.9 L547.14 556.9 L550.12 562.14 L553.11 594.25 L556.09 585.08 L559.07 576.56 L562.06 578.71 L565.04 596.6 L568.02 537.33 L571 498.19 L573.99 481.8 L576.97 569.44 L579.95 532.65 L582.94 483.96 L585.92 439.95 L588.9 448.38 L591.89 495.19 L594.87 546.69 L597.85 568.23 L600.84 576.56 L603.82 561.67 L606.8 545.47 L609.78 557.46 L612.77 566.73 L615.75 577.31 L618.73 591.91 L621.72 584.8 L624.7 585.27 L627.68 577.96 L630.66 587.89 L633.65 595.75 L636.63 573.75 L639.61 570.75 L642.6 593.97 L645.58 586.11 L648.56 577.49 L651.55 563.36 L654.53 568.88 L657.51 576.28 L660.5 582.36 L663.48 594.54 L666.46 598.84 L669.44 599.5 L672.43 600.06 L675.41 600.06" stroke="#ff0000"/>
</g>
<rect x="466.4" y="430.2" width="209.8" height="186.1" fill="none" stroke="#000000" stroke-width="0.8"/>
<line x1="462.9" y1="607.55" x2="466.4" y2="607.55" stroke="#000000" stroke-width="0.8"/>
<text x="459.1" y="612.65" text-anchor="end" font-family='"Liberation Sans", sans-serif' font-size="13.6" fill="#000">0.0</text>
<line x1="462.9" y1="560.73" x2="466.4" y2="560.73" stroke="#000000" stroke-width="0.8"/>
<text x="459.1" y="565.83" text-anchor="end" font-family='"Liberation Sans", sans-serif' font-size="13.6" fill="#000">0.5</text>
<line x1="462.9" y1="513.92" x2="466.4" y2="513.92" stroke="#000000" stroke-width="0.8"/>
<text x="459.1" y="519.02" text-anchor="end" font-family='"Liberation Sans", sans-serif' font-size="13.6" fill="#000">1.0</text>
<line x1="462.9" y1="467.1" x2="466.4" y2="467.1" stroke="#000000" stroke-width="0.8"/>
<text x="459.1" y="472.2" text-anchor="end" font-family='"Liberation Sans", sans-serif' font-size="13.6" fill="#000">1.5</text>
<line x1="466.4" y1="616.3" x2="466.4" y2="619.8" stroke="#000000" stroke-width="0.8"/>
<text x="466.4" y="632.8" text-anchor="middle" font-family='"Liberation Sans", sans-serif' font-size="13.6" fill="#000">0.0</text>
<line x1="536.33" y1="616.3" x2="536.33" y2="619.8" stroke="#000000" stroke-width="0.8"/>
<text x="536.33" y="632.8" text-anchor="middle" font-family='"Liberation Sans", sans-serif' font-size="13.6" fill="#000">0.2</text>
<line x1="606.27" y1="616.3" x2="606.27" y2="619.8" stroke="#000000" stroke-width="0.8"/>
<text x="606.27" y="632.8" text-anchor="middle" font-family='"Liberation Sans", sans-serif' font-size="13.6" fill="#000">0.4</text>
<line x1="676.2" y1="616.3" x2="676.2" y2="619.8" stroke="#000000" stroke-width="0.8"/>
<text x="676.2" y="632.8" text-anchor="middle" font-family='"Liberation Sans", sans-serif' font-size="13.6" fill="#000">0.6</text>
<text transform="translate(433.6 523.25) rotate(-90)" text-anchor="middle" font-family='"Liberation Sans", sans-serif' font-size="15.4" fill="#000">Amplitude X (mm/s)</text>
<text x="229.8" y="650.3" text-anchor="middle" font-family='"Liberation Sans", sans-serif' font-size="15.4" fill="#000">Time (s)</text>
<text x="571.3" y="650.3" text-anchor="middle" font-family='"Liberation Sans", sans-serif' font-size="15.4" fill="#000">Frequency (Hz)</text>
</svg>
</body>
</html>
